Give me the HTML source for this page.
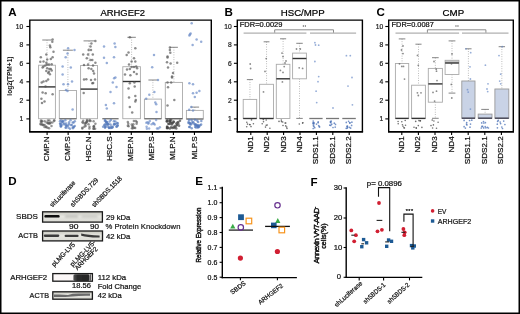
<!DOCTYPE html>
<html><head><meta charset="utf-8"><style>
html,body{margin:0;padding:0;background:#fff;}
svg{display:block;will-change:transform;}
text{font-family:"Liberation Sans", sans-serif;}
</style></head><body>
<svg width="520" height="314" viewBox="0 0 520 314">
<rect x="0" y="0" width="520" height="314" fill="#fff"/>
<rect x="0.75" y="0.75" width="518.5" height="312.5" fill="none" stroke="#000" stroke-width="1.5" />
<text x="8.3" y="16.4" font-size="11.6" text-anchor="start" font-weight="bold" fill="#000" >A</text>
<text x="224.6" y="16.2" font-size="11.6" text-anchor="start" font-weight="bold" fill="#000" >B</text>
<text x="376.4" y="16.4" font-size="11.6" text-anchor="start" font-weight="bold" fill="#000" >C</text>
<text x="8.2" y="185.0" font-size="11.6" text-anchor="start" font-weight="bold" fill="#000" >D</text>
<text x="195.3" y="185.1" font-size="11.6" text-anchor="start" font-weight="bold" fill="#000" >E</text>
<text x="310.4" y="185.5" font-size="11.6" text-anchor="start" font-weight="bold" fill="#000" >F</text>
<text x="100.4" y="15.9" font-size="9.9" text-anchor="start" font-weight="normal" fill="#000" stroke="#000" stroke-width="0.22" textLength="44.6" lengthAdjust="spacingAndGlyphs" >ARHGEF2</text>
<text x="280.7" y="15.7" font-size="9.7" text-anchor="start" font-weight="normal" fill="#000" stroke="#000" stroke-width="0.22" textLength="44.1" lengthAdjust="spacingAndGlyphs" >HSC/MPP</text>
<text x="442.6" y="15.9" font-size="9.8" text-anchor="start" font-weight="normal" fill="#000" stroke="#000" stroke-width="0.22" textLength="21.6" lengthAdjust="spacingAndGlyphs" >CMP</text>
<path d="M29.8,131.9 L29.8,20.1 L211.3,20.1 L211.3,131.9" fill="none" stroke="#000" stroke-width="1.4" stroke-linejoin="miter"/>
<line x1="29.1" y1="131.9" x2="212.0" y2="131.9" stroke="#000" stroke-width="1.7" />
<line x1="26.400000000000002" y1="26.5" x2="29.8" y2="26.5" stroke="#000" stroke-width="1.1" />
<text x="23.3" y="28.9" font-size="6.7" text-anchor="end" font-weight="normal" fill="#222" stroke="#222" stroke-width="0.22" >10</text>
<line x1="26.400000000000002" y1="44.9" x2="29.8" y2="44.9" stroke="#000" stroke-width="1.1" />
<text x="23.3" y="47.3" font-size="6.7" text-anchor="end" font-weight="normal" fill="#222" stroke="#222" stroke-width="0.22" >8</text>
<line x1="26.400000000000002" y1="63.3" x2="29.8" y2="63.3" stroke="#000" stroke-width="1.1" />
<text x="23.3" y="65.7" font-size="6.7" text-anchor="end" font-weight="normal" fill="#222" stroke="#222" stroke-width="0.22" >6</text>
<line x1="26.400000000000002" y1="81.8" x2="29.8" y2="81.8" stroke="#000" stroke-width="1.1" />
<text x="23.3" y="84.2" font-size="6.7" text-anchor="end" font-weight="normal" fill="#222" stroke="#222" stroke-width="0.22" >4</text>
<line x1="26.400000000000002" y1="100.2" x2="29.8" y2="100.2" stroke="#000" stroke-width="1.1" />
<text x="23.3" y="102.60000000000001" font-size="6.7" text-anchor="end" font-weight="normal" fill="#222" stroke="#222" stroke-width="0.22" >2</text>
<line x1="26.400000000000002" y1="118.9" x2="29.8" y2="118.9" stroke="#000" stroke-width="1.1" />
<text x="23.3" y="121.30000000000001" font-size="6.7" text-anchor="end" font-weight="normal" fill="#222" stroke="#222" stroke-width="0.22" >1</text>
<path d="M237.3,131.9 L237.3,20.1 L362.4,20.1 L362.4,131.9" fill="none" stroke="#000" stroke-width="1.4" stroke-linejoin="miter"/>
<line x1="236.60000000000002" y1="131.9" x2="363.09999999999997" y2="131.9" stroke="#000" stroke-width="1.7" />
<line x1="233.9" y1="26.5" x2="237.3" y2="26.5" stroke="#000" stroke-width="1.1" />
<text x="231.8" y="28.9" font-size="6.7" text-anchor="end" font-weight="normal" fill="#222" stroke="#222" stroke-width="0.22" >10</text>
<line x1="233.9" y1="44.9" x2="237.3" y2="44.9" stroke="#000" stroke-width="1.1" />
<text x="231.8" y="47.3" font-size="6.7" text-anchor="end" font-weight="normal" fill="#222" stroke="#222" stroke-width="0.22" >8</text>
<line x1="233.9" y1="63.3" x2="237.3" y2="63.3" stroke="#000" stroke-width="1.1" />
<text x="231.8" y="65.7" font-size="6.7" text-anchor="end" font-weight="normal" fill="#222" stroke="#222" stroke-width="0.22" >6</text>
<line x1="233.9" y1="81.8" x2="237.3" y2="81.8" stroke="#000" stroke-width="1.1" />
<text x="231.8" y="84.2" font-size="6.7" text-anchor="end" font-weight="normal" fill="#222" stroke="#222" stroke-width="0.22" >4</text>
<line x1="233.9" y1="100.2" x2="237.3" y2="100.2" stroke="#000" stroke-width="1.1" />
<text x="231.8" y="102.60000000000001" font-size="6.7" text-anchor="end" font-weight="normal" fill="#222" stroke="#222" stroke-width="0.22" >2</text>
<line x1="233.9" y1="118.9" x2="237.3" y2="118.9" stroke="#000" stroke-width="1.1" />
<text x="231.8" y="121.30000000000001" font-size="6.7" text-anchor="end" font-weight="normal" fill="#222" stroke="#222" stroke-width="0.22" >1</text>
<path d="M388.7,131.9 L388.7,20.1 L513.3,20.1 L513.3,131.9" fill="none" stroke="#000" stroke-width="1.4" stroke-linejoin="miter"/>
<line x1="388.0" y1="131.9" x2="514.0" y2="131.9" stroke="#000" stroke-width="1.7" />
<line x1="385.3" y1="26.5" x2="388.7" y2="26.5" stroke="#000" stroke-width="1.1" />
<text x="383.2" y="28.9" font-size="6.7" text-anchor="end" font-weight="normal" fill="#222" stroke="#222" stroke-width="0.22" >10</text>
<line x1="385.3" y1="44.9" x2="388.7" y2="44.9" stroke="#000" stroke-width="1.1" />
<text x="383.2" y="47.3" font-size="6.7" text-anchor="end" font-weight="normal" fill="#222" stroke="#222" stroke-width="0.22" >8</text>
<line x1="385.3" y1="63.3" x2="388.7" y2="63.3" stroke="#000" stroke-width="1.1" />
<text x="383.2" y="65.7" font-size="6.7" text-anchor="end" font-weight="normal" fill="#222" stroke="#222" stroke-width="0.22" >6</text>
<line x1="385.3" y1="81.8" x2="388.7" y2="81.8" stroke="#000" stroke-width="1.1" />
<text x="383.2" y="84.2" font-size="6.7" text-anchor="end" font-weight="normal" fill="#222" stroke="#222" stroke-width="0.22" >4</text>
<line x1="385.3" y1="100.2" x2="388.7" y2="100.2" stroke="#000" stroke-width="1.1" />
<text x="383.2" y="102.60000000000001" font-size="6.7" text-anchor="end" font-weight="normal" fill="#222" stroke="#222" stroke-width="0.22" >2</text>
<line x1="385.3" y1="118.9" x2="388.7" y2="118.9" stroke="#000" stroke-width="1.1" />
<text x="383.2" y="121.30000000000001" font-size="6.7" text-anchor="end" font-weight="normal" fill="#222" stroke="#222" stroke-width="0.22" >1</text>
<text x="12.5" y="76.1" font-size="7.6" text-anchor="middle" font-weight="bold" fill="#1a1a1a" textLength="39.2" lengthAdjust="spacingAndGlyphs" transform="rotate(-90 12.5 76.1)" >log2(TPM+1)</text>
<line x1="47.1" y1="131.9" x2="47.1" y2="135.0" stroke="#000" stroke-width="1.1" />
<text x="49.2" y="136.3" font-size="8.1" text-anchor="end" font-weight="normal" fill="#111" stroke="#111" stroke-width="0.22" transform="rotate(-90 49.2 136.3)" >CMP.N</text>
<line x1="68.15" y1="131.9" x2="68.15" y2="135.0" stroke="#000" stroke-width="1.1" />
<text x="70.25" y="136.3" font-size="8.1" text-anchor="end" font-weight="normal" fill="#111" stroke="#111" stroke-width="0.22" transform="rotate(-90 70.25 136.3)" >CMP.S</text>
<line x1="89.2" y1="131.9" x2="89.2" y2="135.0" stroke="#000" stroke-width="1.1" />
<text x="91.3" y="136.3" font-size="8.1" text-anchor="end" font-weight="normal" fill="#111" stroke="#111" stroke-width="0.22" transform="rotate(-90 91.3 136.3)" >HSC.N</text>
<line x1="110.25" y1="131.9" x2="110.25" y2="135.0" stroke="#000" stroke-width="1.1" />
<text x="112.35" y="136.3" font-size="8.1" text-anchor="end" font-weight="normal" fill="#111" stroke="#111" stroke-width="0.22" transform="rotate(-90 112.35 136.3)" >HSC.S</text>
<line x1="131.3" y1="131.9" x2="131.3" y2="135.0" stroke="#000" stroke-width="1.1" />
<text x="133.4" y="136.3" font-size="8.1" text-anchor="end" font-weight="normal" fill="#111" stroke="#111" stroke-width="0.22" transform="rotate(-90 133.4 136.3)" >MEP.N</text>
<line x1="152.35" y1="131.9" x2="152.35" y2="135.0" stroke="#000" stroke-width="1.1" />
<text x="154.45" y="136.3" font-size="8.1" text-anchor="end" font-weight="normal" fill="#111" stroke="#111" stroke-width="0.22" transform="rotate(-90 154.45 136.3)" >MEP.S</text>
<line x1="173.4" y1="131.9" x2="173.4" y2="135.0" stroke="#000" stroke-width="1.1" />
<text x="175.5" y="136.3" font-size="8.1" text-anchor="end" font-weight="normal" fill="#111" stroke="#111" stroke-width="0.22" transform="rotate(-90 175.5 136.3)" >MLP.N</text>
<line x1="194.45" y1="131.9" x2="194.45" y2="135.0" stroke="#000" stroke-width="1.1" />
<text x="196.54999999999998" y="136.3" font-size="8.1" text-anchor="end" font-weight="normal" fill="#111" stroke="#111" stroke-width="0.22" transform="rotate(-90 196.54999999999998 136.3)" >MLP.S</text>
<line x1="250.8" y1="131.9" x2="250.8" y2="135.0" stroke="#000" stroke-width="1.1" />
<text x="252.9" y="136.3" font-size="8.1" text-anchor="end" font-weight="normal" fill="#111" stroke="#111" stroke-width="0.22" transform="rotate(-90 252.9 136.3)" >ND1</text>
<line x1="267.2" y1="131.9" x2="267.2" y2="135.0" stroke="#000" stroke-width="1.1" />
<text x="269.3" y="136.3" font-size="8.1" text-anchor="end" font-weight="normal" fill="#111" stroke="#111" stroke-width="0.22" transform="rotate(-90 269.3 136.3)" >ND2</text>
<line x1="283.6" y1="131.9" x2="283.6" y2="135.0" stroke="#000" stroke-width="1.1" />
<text x="285.70000000000005" y="136.3" font-size="8.1" text-anchor="end" font-weight="normal" fill="#111" stroke="#111" stroke-width="0.22" transform="rotate(-90 285.70000000000005 136.3)" >ND3</text>
<line x1="300.0" y1="131.9" x2="300.0" y2="135.0" stroke="#000" stroke-width="1.1" />
<text x="302.1" y="136.3" font-size="8.1" text-anchor="end" font-weight="normal" fill="#111" stroke="#111" stroke-width="0.22" transform="rotate(-90 302.1 136.3)" >ND4</text>
<line x1="316.4" y1="131.9" x2="316.4" y2="135.0" stroke="#000" stroke-width="1.1" />
<text x="318.5" y="136.3" font-size="8.1" text-anchor="end" font-weight="normal" fill="#111" stroke="#111" stroke-width="0.22" transform="rotate(-90 318.5 136.3)" >SDS1.1</text>
<line x1="332.8" y1="131.9" x2="332.8" y2="135.0" stroke="#000" stroke-width="1.1" />
<text x="334.90000000000003" y="136.3" font-size="8.1" text-anchor="end" font-weight="normal" fill="#111" stroke="#111" stroke-width="0.22" transform="rotate(-90 334.90000000000003 136.3)" >SDS2.1</text>
<line x1="349.2" y1="131.9" x2="349.2" y2="135.0" stroke="#000" stroke-width="1.1" />
<text x="351.3" y="136.3" font-size="8.1" text-anchor="end" font-weight="normal" fill="#111" stroke="#111" stroke-width="0.22" transform="rotate(-90 351.3 136.3)" >SDS2.2</text>
<line x1="401.8" y1="131.9" x2="401.8" y2="135.0" stroke="#000" stroke-width="1.1" />
<text x="403.90000000000003" y="136.3" font-size="8.1" text-anchor="end" font-weight="normal" fill="#111" stroke="#111" stroke-width="0.22" transform="rotate(-90 403.90000000000003 136.3)" >ND1</text>
<line x1="418.40000000000003" y1="131.9" x2="418.40000000000003" y2="135.0" stroke="#000" stroke-width="1.1" />
<text x="420.50000000000006" y="136.3" font-size="8.1" text-anchor="end" font-weight="normal" fill="#111" stroke="#111" stroke-width="0.22" transform="rotate(-90 420.50000000000006 136.3)" >ND2</text>
<line x1="435.0" y1="131.9" x2="435.0" y2="135.0" stroke="#000" stroke-width="1.1" />
<text x="437.1" y="136.3" font-size="8.1" text-anchor="end" font-weight="normal" fill="#111" stroke="#111" stroke-width="0.22" transform="rotate(-90 437.1 136.3)" >ND3</text>
<line x1="451.6" y1="131.9" x2="451.6" y2="135.0" stroke="#000" stroke-width="1.1" />
<text x="453.70000000000005" y="136.3" font-size="8.1" text-anchor="end" font-weight="normal" fill="#111" stroke="#111" stroke-width="0.22" transform="rotate(-90 453.70000000000005 136.3)" >ND4</text>
<line x1="468.20000000000005" y1="131.9" x2="468.20000000000005" y2="135.0" stroke="#000" stroke-width="1.1" />
<text x="470.30000000000007" y="136.3" font-size="8.1" text-anchor="end" font-weight="normal" fill="#111" stroke="#111" stroke-width="0.22" transform="rotate(-90 470.30000000000007 136.3)" >SDS1.1</text>
<line x1="484.8" y1="131.9" x2="484.8" y2="135.0" stroke="#000" stroke-width="1.1" />
<text x="486.90000000000003" y="136.3" font-size="8.1" text-anchor="end" font-weight="normal" fill="#111" stroke="#111" stroke-width="0.22" transform="rotate(-90 486.90000000000003 136.3)" >SDS2.1</text>
<line x1="501.40000000000003" y1="131.9" x2="501.40000000000003" y2="135.0" stroke="#000" stroke-width="1.1" />
<text x="503.50000000000006" y="136.3" font-size="8.1" text-anchor="end" font-weight="normal" fill="#111" stroke="#111" stroke-width="0.22" transform="rotate(-90 503.50000000000006 136.3)" >SDS2.2</text>
<line x1="47.0" y1="40" x2="47.0" y2="65.2" stroke="#999" stroke-width="0.8" stroke-dasharray="0.8 1.6"/>
<line x1="42.25" y1="40" x2="51.75" y2="40" stroke="#777" stroke-width="0.9" />
<rect x="38.6" y="65.2" width="16.799999999999997" height="53.5" fill="#fff" stroke="#aaa" stroke-width="0.9" />
<line x1="38.6" y1="86.9" x2="55.4" y2="86.9" stroke="#333" stroke-width="1.4" />
<circle cx="52.6" cy="39.6" r="1.25" fill="#555555" fill-opacity="0.68"/>
<circle cx="52.3" cy="41.8" r="1.25" fill="#555555" fill-opacity="0.68"/>
<circle cx="49.9" cy="45.5" r="1.25" fill="#555555" fill-opacity="0.68"/>
<circle cx="50.3" cy="47.3" r="1.25" fill="#555555" fill-opacity="0.68"/>
<circle cx="53.5" cy="51.8" r="1.25" fill="#555555" fill-opacity="0.68"/>
<circle cx="46.3" cy="54.5" r="1.25" fill="#555555" fill-opacity="0.68"/>
<circle cx="52.6" cy="57.3" r="1.25" fill="#555555" fill-opacity="0.68"/>
<circle cx="40.8" cy="57.3" r="1.25" fill="#555555" fill-opacity="0.68"/>
<circle cx="47.2" cy="59.6" r="1.25" fill="#555555" fill-opacity="0.68"/>
<circle cx="50.8" cy="59.1" r="1.25" fill="#555555" fill-opacity="0.68"/>
<circle cx="43.5" cy="61.5" r="1.25" fill="#555555" fill-opacity="0.68"/>
<circle cx="46.3" cy="62.7" r="1.25" fill="#555555" fill-opacity="0.68"/>
<circle cx="40.3" cy="61.8" r="1.25" fill="#555555" fill-opacity="0.68"/>
<circle cx="47.2" cy="64.5" r="1.25" fill="#555555" fill-opacity="0.68"/>
<circle cx="49.0" cy="64.5" r="1.25" fill="#555555" fill-opacity="0.68"/>
<circle cx="51.7" cy="64.2" r="1.25" fill="#555555" fill-opacity="0.68"/>
<circle cx="45.4" cy="65.5" r="1.25" fill="#555555" fill-opacity="0.68"/>
<circle cx="43.5" cy="66.4" r="1.25" fill="#555555" fill-opacity="0.68"/>
<circle cx="42.6" cy="67.6" r="1.25" fill="#555555" fill-opacity="0.68"/>
<circle cx="47.2" cy="68.2" r="1.25" fill="#555555" fill-opacity="0.68"/>
<circle cx="49.4" cy="69.0" r="1.25" fill="#555555" fill-opacity="0.68"/>
<circle cx="50.8" cy="69.0" r="1.25" fill="#555555" fill-opacity="0.68"/>
<circle cx="46.3" cy="71.0" r="1.25" fill="#555555" fill-opacity="0.68"/>
<circle cx="49.0" cy="71.8" r="1.25" fill="#555555" fill-opacity="0.68"/>
<circle cx="51.7" cy="70.5" r="1.25" fill="#555555" fill-opacity="0.68"/>
<circle cx="48.1" cy="73.0" r="1.25" fill="#555555" fill-opacity="0.68"/>
<circle cx="49.9" cy="74.2" r="1.25" fill="#555555" fill-opacity="0.68"/>
<circle cx="41.7" cy="82.4" r="1.25" fill="#555555" fill-opacity="0.68"/>
<circle cx="43.5" cy="81.5" r="1.25" fill="#555555" fill-opacity="0.68"/>
<circle cx="46.3" cy="81.1" r="1.25" fill="#555555" fill-opacity="0.68"/>
<circle cx="48.1" cy="79.6" r="1.25" fill="#555555" fill-opacity="0.68"/>
<circle cx="45.5" cy="86.5" r="1.25" fill="#555555" fill-opacity="0.68"/>
<circle cx="42.6" cy="92.4" r="1.25" fill="#555555" fill-opacity="0.68"/>
<circle cx="45.7" cy="93.3" r="1.25" fill="#555555" fill-opacity="0.68"/>
<circle cx="52.6" cy="94.2" r="1.25" fill="#555555" fill-opacity="0.68"/>
<circle cx="41.4" cy="98.7" r="1.25" fill="#555555" fill-opacity="0.68"/>
<circle cx="42.0" cy="103.0" r="1.25" fill="#555555" fill-opacity="0.68"/>
<circle cx="44.5" cy="101.5" r="1.25" fill="#555555" fill-opacity="0.68"/>
<circle cx="44.7" cy="121.2" r="1.25" fill="#555555" fill-opacity="0.62"/>
<circle cx="49.4" cy="120.5" r="1.25" fill="#555555" fill-opacity="0.62"/>
<circle cx="47.8" cy="123.1" r="1.25" fill="#555555" fill-opacity="0.62"/>
<circle cx="40.8" cy="124.4" r="1.25" fill="#555555" fill-opacity="0.62"/>
<circle cx="40.5" cy="123.7" r="1.25" fill="#555555" fill-opacity="0.62"/>
<circle cx="41.0" cy="120.6" r="1.25" fill="#555555" fill-opacity="0.62"/>
<circle cx="46.2" cy="127.2" r="1.25" fill="#555555" fill-opacity="0.62"/>
<circle cx="41.8" cy="121.8" r="1.25" fill="#555555" fill-opacity="0.62"/>
<circle cx="49.1" cy="128.3" r="1.25" fill="#555555" fill-opacity="0.62"/>
<circle cx="48.4" cy="123.4" r="1.25" fill="#555555" fill-opacity="0.62"/>
<circle cx="54.2" cy="120.2" r="1.25" fill="#555555" fill-opacity="0.62"/>
<circle cx="52.4" cy="122.4" r="1.25" fill="#555555" fill-opacity="0.62"/>
<circle cx="42.1" cy="120.9" r="1.25" fill="#555555" fill-opacity="0.62"/>
<circle cx="44.5" cy="127.1" r="1.25" fill="#555555" fill-opacity="0.62"/>
<circle cx="42.6" cy="125.0" r="1.25" fill="#555555" fill-opacity="0.62"/>
<circle cx="49.3" cy="123.2" r="1.25" fill="#555555" fill-opacity="0.62"/>
<circle cx="47.9" cy="120.4" r="1.25" fill="#555555" fill-opacity="0.62"/>
<circle cx="40.9" cy="121.7" r="1.25" fill="#555555" fill-opacity="0.62"/>
<circle cx="49.9" cy="123.6" r="1.25" fill="#555555" fill-opacity="0.62"/>
<circle cx="44.6" cy="125.1" r="1.25" fill="#555555" fill-opacity="0.62"/>
<circle cx="46.6" cy="122.5" r="1.25" fill="#555555" fill-opacity="0.62"/>
<circle cx="51.5" cy="126.1" r="1.25" fill="#555555" fill-opacity="0.62"/>
<circle cx="43.5" cy="125.0" r="1.25" fill="#555555" fill-opacity="0.62"/>
<circle cx="47.6" cy="127.7" r="1.25" fill="#555555" fill-opacity="0.62"/>
<circle cx="50.6" cy="122.4" r="1.25" fill="#555555" fill-opacity="0.62"/>
<circle cx="54.2" cy="120.9" r="1.25" fill="#555555" fill-opacity="0.62"/>
<circle cx="46.1" cy="126.6" r="1.25" fill="#555555" fill-opacity="0.62"/>
<circle cx="42.2" cy="124.2" r="1.25" fill="#555555" fill-opacity="0.62"/>
<line x1="67.9" y1="50.2" x2="67.9" y2="90.5" stroke="#999" stroke-width="0.8" stroke-dasharray="0.8 1.6"/>
<line x1="62.900000000000006" y1="50.2" x2="72.9" y2="50.2" stroke="#777" stroke-width="0.9" />
<rect x="59.3" y="90.5" width="17.200000000000003" height="28.200000000000003" fill="#fff" stroke="#aaa" stroke-width="0.9" />
<line x1="59.3" y1="118.7" x2="76.5" y2="118.7" stroke="#7a7a7a" stroke-width="1.4" />
<circle cx="68.1" cy="48.2" r="1.25" fill="#6688c6" fill-opacity="0.68"/>
<circle cx="74.5" cy="50.0" r="1.25" fill="#6688c6" fill-opacity="0.68"/>
<circle cx="67.5" cy="53.6" r="1.25" fill="#6688c6" fill-opacity="0.68"/>
<circle cx="65.7" cy="57.3" r="1.25" fill="#6688c6" fill-opacity="0.68"/>
<circle cx="62.6" cy="66.4" r="1.25" fill="#6688c6" fill-opacity="0.68"/>
<circle cx="70.8" cy="67.6" r="1.25" fill="#6688c6" fill-opacity="0.68"/>
<circle cx="62.6" cy="74.5" r="1.25" fill="#6688c6" fill-opacity="0.68"/>
<circle cx="63.5" cy="84.2" r="1.25" fill="#6688c6" fill-opacity="0.68"/>
<circle cx="68.0" cy="84.2" r="1.25" fill="#6688c6" fill-opacity="0.68"/>
<circle cx="72.0" cy="81.5" r="1.25" fill="#6688c6" fill-opacity="0.68"/>
<circle cx="67.5" cy="91.0" r="1.25" fill="#6688c6" fill-opacity="0.68"/>
<circle cx="66.0" cy="90.0" r="1.25" fill="#6688c6" fill-opacity="0.68"/>
<circle cx="72.6" cy="109.6" r="1.25" fill="#6688c6" fill-opacity="0.68"/>
<circle cx="60.6" cy="125.8" r="1.25" fill="#5479bb" fill-opacity="0.62"/>
<circle cx="71.9" cy="125.0" r="1.25" fill="#5479bb" fill-opacity="0.62"/>
<circle cx="73.6" cy="122.6" r="1.25" fill="#5479bb" fill-opacity="0.62"/>
<circle cx="70.8" cy="125.1" r="1.25" fill="#5479bb" fill-opacity="0.62"/>
<circle cx="69.0" cy="123.9" r="1.25" fill="#5479bb" fill-opacity="0.62"/>
<circle cx="73.0" cy="128.3" r="1.25" fill="#5479bb" fill-opacity="0.62"/>
<circle cx="67.3" cy="125.8" r="1.25" fill="#5479bb" fill-opacity="0.62"/>
<circle cx="60.9" cy="126.1" r="1.25" fill="#5479bb" fill-opacity="0.62"/>
<circle cx="70.0" cy="128.7" r="1.25" fill="#5479bb" fill-opacity="0.62"/>
<circle cx="72.7" cy="122.4" r="1.25" fill="#5479bb" fill-opacity="0.62"/>
<circle cx="66.0" cy="125.8" r="1.25" fill="#5479bb" fill-opacity="0.62"/>
<circle cx="60.3" cy="124.0" r="1.25" fill="#5479bb" fill-opacity="0.62"/>
<circle cx="62.6" cy="120.9" r="1.25" fill="#5479bb" fill-opacity="0.62"/>
<circle cx="60.9" cy="126.7" r="1.25" fill="#5479bb" fill-opacity="0.62"/>
<circle cx="62.0" cy="122.0" r="1.25" fill="#5479bb" fill-opacity="0.62"/>
<circle cx="66.1" cy="127.6" r="1.25" fill="#5479bb" fill-opacity="0.62"/>
<circle cx="61.2" cy="123.8" r="1.25" fill="#5479bb" fill-opacity="0.62"/>
<circle cx="68.5" cy="127.8" r="1.25" fill="#5479bb" fill-opacity="0.62"/>
<circle cx="72.7" cy="127.6" r="1.25" fill="#5479bb" fill-opacity="0.62"/>
<circle cx="64.3" cy="123.5" r="1.25" fill="#5479bb" fill-opacity="0.62"/>
<circle cx="65.6" cy="127.8" r="1.25" fill="#5479bb" fill-opacity="0.62"/>
<circle cx="74.8" cy="121.2" r="1.25" fill="#5479bb" fill-opacity="0.62"/>
<circle cx="62.7" cy="121.9" r="1.25" fill="#5479bb" fill-opacity="0.62"/>
<circle cx="63.6" cy="124.2" r="1.25" fill="#5479bb" fill-opacity="0.62"/>
<circle cx="69.1" cy="122.2" r="1.25" fill="#5479bb" fill-opacity="0.62"/>
<circle cx="60.1" cy="123.6" r="1.25" fill="#5479bb" fill-opacity="0.62"/>
<circle cx="65.7" cy="124.9" r="1.25" fill="#5479bb" fill-opacity="0.62"/>
<circle cx="74.8" cy="126.0" r="1.25" fill="#5479bb" fill-opacity="0.62"/>
<circle cx="68.0" cy="125.4" r="1.25" fill="#5479bb" fill-opacity="0.62"/>
<circle cx="70.5" cy="120.3" r="1.25" fill="#5479bb" fill-opacity="0.62"/>
<circle cx="73.9" cy="126.8" r="1.25" fill="#5479bb" fill-opacity="0.62"/>
<circle cx="73.6" cy="127.0" r="1.25" fill="#5479bb" fill-opacity="0.62"/>
<circle cx="66.1" cy="123.4" r="1.25" fill="#5479bb" fill-opacity="0.62"/>
<circle cx="61.6" cy="125.5" r="1.25" fill="#5479bb" fill-opacity="0.62"/>
<circle cx="61.0" cy="120.4" r="1.25" fill="#5479bb" fill-opacity="0.62"/>
<circle cx="63.2" cy="121.3" r="1.25" fill="#5479bb" fill-opacity="0.62"/>
<circle cx="65.3" cy="120.3" r="1.25" fill="#5479bb" fill-opacity="0.62"/>
<circle cx="60.0" cy="121.2" r="1.25" fill="#5479bb" fill-opacity="0.62"/>
<line x1="89.05" y1="40.9" x2="89.05" y2="65.5" stroke="#999" stroke-width="0.8" stroke-dasharray="0.8 1.6"/>
<line x1="83.55" y1="40.9" x2="94.55" y2="40.9" stroke="#777" stroke-width="0.9" />
<rect x="80.6" y="65.5" width="16.900000000000006" height="53.2" fill="#fff" stroke="#aaa" stroke-width="0.9" />
<line x1="80.6" y1="89.1" x2="97.5" y2="89.1" stroke="#333" stroke-width="1.4" />
<circle cx="95.4" cy="40.9" r="1.25" fill="#555555" fill-opacity="0.68"/>
<circle cx="91.4" cy="43.6" r="1.25" fill="#555555" fill-opacity="0.68"/>
<circle cx="90.5" cy="46.4" r="1.25" fill="#555555" fill-opacity="0.68"/>
<circle cx="88.6" cy="50.0" r="1.25" fill="#555555" fill-opacity="0.68"/>
<circle cx="91.0" cy="50.0" r="1.25" fill="#555555" fill-opacity="0.68"/>
<circle cx="83.2" cy="54.5" r="1.25" fill="#555555" fill-opacity="0.68"/>
<circle cx="88.0" cy="54.5" r="1.25" fill="#555555" fill-opacity="0.68"/>
<circle cx="92.8" cy="54.5" r="1.25" fill="#555555" fill-opacity="0.68"/>
<circle cx="86.8" cy="58.2" r="1.25" fill="#555555" fill-opacity="0.68"/>
<circle cx="90.5" cy="60.0" r="1.25" fill="#555555" fill-opacity="0.68"/>
<circle cx="92.3" cy="60.0" r="1.25" fill="#555555" fill-opacity="0.68"/>
<circle cx="95.4" cy="62.7" r="1.25" fill="#555555" fill-opacity="0.68"/>
<circle cx="84.0" cy="65.0" r="1.25" fill="#555555" fill-opacity="0.68"/>
<circle cx="88.0" cy="64.5" r="1.25" fill="#555555" fill-opacity="0.68"/>
<circle cx="93.0" cy="65.5" r="1.25" fill="#555555" fill-opacity="0.68"/>
<circle cx="88.6" cy="68.2" r="1.25" fill="#555555" fill-opacity="0.68"/>
<circle cx="91.4" cy="69.0" r="1.25" fill="#555555" fill-opacity="0.68"/>
<circle cx="93.2" cy="71.0" r="1.25" fill="#555555" fill-opacity="0.68"/>
<circle cx="94.0" cy="73.6" r="1.25" fill="#555555" fill-opacity="0.68"/>
<circle cx="84.0" cy="79.6" r="1.25" fill="#555555" fill-opacity="0.68"/>
<circle cx="86.3" cy="79.3" r="1.25" fill="#555555" fill-opacity="0.68"/>
<circle cx="91.0" cy="80.0" r="1.25" fill="#555555" fill-opacity="0.68"/>
<circle cx="95.0" cy="79.6" r="1.25" fill="#555555" fill-opacity="0.68"/>
<circle cx="92.3" cy="83.3" r="1.25" fill="#555555" fill-opacity="0.68"/>
<circle cx="93.2" cy="83.0" r="1.25" fill="#555555" fill-opacity="0.68"/>
<circle cx="83.7" cy="92.9" r="1.25" fill="#555555" fill-opacity="0.68"/>
<circle cx="83.4" cy="123.1" r="1.25" fill="#555555" fill-opacity="0.62"/>
<circle cx="82.4" cy="127.7" r="1.25" fill="#555555" fill-opacity="0.62"/>
<circle cx="90.6" cy="121.1" r="1.25" fill="#555555" fill-opacity="0.62"/>
<circle cx="85.5" cy="122.9" r="1.25" fill="#555555" fill-opacity="0.62"/>
<circle cx="87.1" cy="120.9" r="1.25" fill="#555555" fill-opacity="0.62"/>
<circle cx="93.9" cy="128.7" r="1.25" fill="#555555" fill-opacity="0.62"/>
<circle cx="88.5" cy="124.2" r="1.25" fill="#555555" fill-opacity="0.62"/>
<circle cx="83.2" cy="120.7" r="1.25" fill="#555555" fill-opacity="0.62"/>
<circle cx="86.8" cy="122.2" r="1.25" fill="#555555" fill-opacity="0.62"/>
<circle cx="93.6" cy="121.3" r="1.25" fill="#555555" fill-opacity="0.62"/>
<circle cx="82.3" cy="128.4" r="1.25" fill="#555555" fill-opacity="0.62"/>
<circle cx="89.4" cy="121.1" r="1.25" fill="#555555" fill-opacity="0.62"/>
<circle cx="89.6" cy="120.0" r="1.25" fill="#555555" fill-opacity="0.62"/>
<circle cx="89.4" cy="128.6" r="1.25" fill="#555555" fill-opacity="0.62"/>
<circle cx="94.1" cy="126.1" r="1.25" fill="#555555" fill-opacity="0.62"/>
<circle cx="85.7" cy="123.1" r="1.25" fill="#555555" fill-opacity="0.62"/>
<circle cx="84.3" cy="126.7" r="1.25" fill="#555555" fill-opacity="0.62"/>
<circle cx="89.5" cy="126.8" r="1.25" fill="#555555" fill-opacity="0.62"/>
<circle cx="86.6" cy="121.8" r="1.25" fill="#555555" fill-opacity="0.62"/>
<circle cx="93.4" cy="128.7" r="1.25" fill="#555555" fill-opacity="0.62"/>
<circle cx="93.9" cy="127.1" r="1.25" fill="#555555" fill-opacity="0.62"/>
<circle cx="93.5" cy="126.5" r="1.25" fill="#555555" fill-opacity="0.62"/>
<circle cx="85.2" cy="124.5" r="1.25" fill="#555555" fill-opacity="0.62"/>
<circle cx="87.0" cy="120.1" r="1.25" fill="#555555" fill-opacity="0.62"/>
<circle cx="82.4" cy="122.3" r="1.25" fill="#555555" fill-opacity="0.62"/>
<circle cx="85.6" cy="126.0" r="1.25" fill="#555555" fill-opacity="0.62"/>
<circle cx="95.4" cy="123.8" r="1.25" fill="#555555" fill-opacity="0.62"/>
<circle cx="95.1" cy="128.7" r="1.25" fill="#555555" fill-opacity="0.62"/>
<line x1="102.3" y1="118.7" x2="118.6" y2="118.7" stroke="#7a7a7a" stroke-width="1.4" />
<circle cx="104.0" cy="46.4" r="1.25" fill="#6688c6" fill-opacity="0.68"/>
<circle cx="114.6" cy="43.6" r="1.25" fill="#6688c6" fill-opacity="0.68"/>
<circle cx="115.4" cy="47.0" r="1.25" fill="#6688c6" fill-opacity="0.68"/>
<circle cx="104.0" cy="57.8" r="1.25" fill="#6688c6" fill-opacity="0.68"/>
<circle cx="114.0" cy="57.3" r="1.25" fill="#6688c6" fill-opacity="0.68"/>
<circle cx="106.8" cy="63.1" r="1.25" fill="#6688c6" fill-opacity="0.68"/>
<circle cx="114.1" cy="78.2" r="1.25" fill="#6688c6" fill-opacity="0.68"/>
<circle cx="115.4" cy="77.5" r="1.25" fill="#6688c6" fill-opacity="0.68"/>
<circle cx="112.8" cy="82.4" r="1.25" fill="#6688c6" fill-opacity="0.68"/>
<circle cx="116.5" cy="86.9" r="1.25" fill="#6688c6" fill-opacity="0.68"/>
<circle cx="110.5" cy="92.0" r="1.25" fill="#6688c6" fill-opacity="0.68"/>
<circle cx="114.0" cy="103.3" r="1.25" fill="#6688c6" fill-opacity="0.68"/>
<circle cx="105.9" cy="105.0" r="1.25" fill="#6688c6" fill-opacity="0.68"/>
<circle cx="106.8" cy="108.4" r="1.25" fill="#6688c6" fill-opacity="0.68"/>
<circle cx="117.3" cy="123.0" r="1.25" fill="#5479bb" fill-opacity="0.65"/>
<circle cx="106.3" cy="121.8" r="1.25" fill="#5479bb" fill-opacity="0.65"/>
<circle cx="106.0" cy="121.6" r="1.25" fill="#5479bb" fill-opacity="0.65"/>
<circle cx="112.4" cy="127.6" r="1.25" fill="#5479bb" fill-opacity="0.65"/>
<circle cx="115.6" cy="124.0" r="1.25" fill="#5479bb" fill-opacity="0.65"/>
<circle cx="112.8" cy="126.8" r="1.25" fill="#5479bb" fill-opacity="0.65"/>
<circle cx="104.3" cy="125.5" r="1.25" fill="#5479bb" fill-opacity="0.65"/>
<circle cx="116.6" cy="126.6" r="1.25" fill="#5479bb" fill-opacity="0.65"/>
<circle cx="114.3" cy="124.0" r="1.25" fill="#5479bb" fill-opacity="0.65"/>
<circle cx="105.7" cy="126.7" r="1.25" fill="#5479bb" fill-opacity="0.65"/>
<circle cx="108.0" cy="126.8" r="1.25" fill="#5479bb" fill-opacity="0.65"/>
<circle cx="117.6" cy="123.2" r="1.25" fill="#5479bb" fill-opacity="0.65"/>
<circle cx="109.0" cy="128.0" r="1.25" fill="#5479bb" fill-opacity="0.65"/>
<circle cx="113.9" cy="121.3" r="1.25" fill="#5479bb" fill-opacity="0.65"/>
<circle cx="104.9" cy="121.1" r="1.25" fill="#5479bb" fill-opacity="0.65"/>
<circle cx="116.6" cy="126.8" r="1.25" fill="#5479bb" fill-opacity="0.65"/>
<circle cx="105.2" cy="127.0" r="1.25" fill="#5479bb" fill-opacity="0.65"/>
<circle cx="117.7" cy="125.5" r="1.25" fill="#5479bb" fill-opacity="0.65"/>
<circle cx="108.3" cy="124.6" r="1.25" fill="#5479bb" fill-opacity="0.65"/>
<circle cx="105.0" cy="119.9" r="1.25" fill="#5479bb" fill-opacity="0.65"/>
<circle cx="117.6" cy="125.5" r="1.25" fill="#5479bb" fill-opacity="0.65"/>
<circle cx="110.9" cy="127.9" r="1.25" fill="#5479bb" fill-opacity="0.65"/>
<circle cx="109.5" cy="127.4" r="1.25" fill="#5479bb" fill-opacity="0.65"/>
<circle cx="115.4" cy="121.6" r="1.25" fill="#5479bb" fill-opacity="0.65"/>
<circle cx="106.8" cy="122.3" r="1.25" fill="#5479bb" fill-opacity="0.65"/>
<circle cx="106.6" cy="124.9" r="1.25" fill="#5479bb" fill-opacity="0.65"/>
<circle cx="106.9" cy="123.4" r="1.25" fill="#5479bb" fill-opacity="0.65"/>
<circle cx="105.0" cy="127.7" r="1.25" fill="#5479bb" fill-opacity="0.65"/>
<circle cx="108.3" cy="123.8" r="1.25" fill="#5479bb" fill-opacity="0.65"/>
<circle cx="111.8" cy="127.7" r="1.25" fill="#5479bb" fill-opacity="0.65"/>
<circle cx="109.3" cy="127.8" r="1.25" fill="#5479bb" fill-opacity="0.65"/>
<circle cx="110.5" cy="124.4" r="1.25" fill="#5479bb" fill-opacity="0.65"/>
<circle cx="110.9" cy="120.0" r="1.25" fill="#5479bb" fill-opacity="0.65"/>
<circle cx="109.6" cy="121.4" r="1.25" fill="#5479bb" fill-opacity="0.65"/>
<circle cx="103.1" cy="126.8" r="1.25" fill="#5479bb" fill-opacity="0.65"/>
<circle cx="105.6" cy="123.9" r="1.25" fill="#5479bb" fill-opacity="0.65"/>
<circle cx="113.9" cy="124.6" r="1.25" fill="#5479bb" fill-opacity="0.65"/>
<circle cx="107.9" cy="124.3" r="1.25" fill="#5479bb" fill-opacity="0.65"/>
<circle cx="111.3" cy="126.6" r="1.25" fill="#5479bb" fill-opacity="0.65"/>
<circle cx="104.6" cy="124.7" r="1.25" fill="#5479bb" fill-opacity="0.65"/>
<circle cx="106.7" cy="122.2" r="1.25" fill="#5479bb" fill-opacity="0.65"/>
<circle cx="114.6" cy="124.2" r="1.25" fill="#5479bb" fill-opacity="0.65"/>
<line x1="131.6" y1="37.3" x2="131.6" y2="66.7" stroke="#999" stroke-width="0.8" stroke-dasharray="0.8 1.6"/>
<line x1="127.35" y1="37.3" x2="135.85" y2="37.3" stroke="#777" stroke-width="0.9" />
<rect x="122.8" y="66.7" width="17.60000000000001" height="52.0" fill="#fff" stroke="#aaa" stroke-width="0.9" />
<line x1="122.8" y1="81.5" x2="140.4" y2="81.5" stroke="#333" stroke-width="1.4" />
<circle cx="129.8" cy="37.3" r="1.25" fill="#555555" fill-opacity="0.68"/>
<circle cx="135.3" cy="48.2" r="1.25" fill="#555555" fill-opacity="0.68"/>
<circle cx="128.5" cy="52.4" r="1.25" fill="#555555" fill-opacity="0.68"/>
<circle cx="126.7" cy="55.1" r="1.25" fill="#555555" fill-opacity="0.68"/>
<circle cx="134.0" cy="58.2" r="1.25" fill="#555555" fill-opacity="0.68"/>
<circle cx="131.6" cy="61.5" r="1.25" fill="#555555" fill-opacity="0.68"/>
<circle cx="135.3" cy="61.5" r="1.25" fill="#555555" fill-opacity="0.68"/>
<circle cx="129.0" cy="64.5" r="1.25" fill="#555555" fill-opacity="0.68"/>
<circle cx="131.6" cy="67.0" r="1.25" fill="#555555" fill-opacity="0.68"/>
<circle cx="134.0" cy="67.0" r="1.25" fill="#555555" fill-opacity="0.68"/>
<circle cx="136.2" cy="66.4" r="1.25" fill="#555555" fill-opacity="0.68"/>
<circle cx="127.0" cy="69.4" r="1.25" fill="#555555" fill-opacity="0.68"/>
<circle cx="129.8" cy="69.0" r="1.25" fill="#555555" fill-opacity="0.68"/>
<circle cx="137.1" cy="68.2" r="1.25" fill="#555555" fill-opacity="0.68"/>
<circle cx="125.0" cy="74.5" r="1.25" fill="#555555" fill-opacity="0.68"/>
<circle cx="130.4" cy="75.2" r="1.25" fill="#555555" fill-opacity="0.68"/>
<circle cx="134.0" cy="72.0" r="1.25" fill="#555555" fill-opacity="0.68"/>
<circle cx="136.7" cy="74.1" r="1.25" fill="#555555" fill-opacity="0.68"/>
<circle cx="129.8" cy="83.3" r="1.25" fill="#555555" fill-opacity="0.68"/>
<circle cx="134.4" cy="82.4" r="1.25" fill="#555555" fill-opacity="0.68"/>
<circle cx="128.5" cy="88.4" r="1.25" fill="#555555" fill-opacity="0.68"/>
<circle cx="134.7" cy="86.5" r="1.25" fill="#555555" fill-opacity="0.68"/>
<circle cx="129.0" cy="97.5" r="1.25" fill="#555555" fill-opacity="0.68"/>
<circle cx="135.3" cy="96.0" r="1.25" fill="#555555" fill-opacity="0.68"/>
<circle cx="135.8" cy="100.0" r="1.25" fill="#555555" fill-opacity="0.68"/>
<circle cx="135.3" cy="101.5" r="1.25" fill="#555555" fill-opacity="0.68"/>
<circle cx="129.8" cy="106.9" r="1.25" fill="#555555" fill-opacity="0.68"/>
<circle cx="132.2" cy="112.4" r="1.25" fill="#555555" fill-opacity="0.68"/>
<circle cx="132.9" cy="126.6" r="1.25" fill="#555555" fill-opacity="0.62"/>
<circle cx="136.6" cy="123.8" r="1.25" fill="#555555" fill-opacity="0.62"/>
<circle cx="133.4" cy="124.3" r="1.25" fill="#555555" fill-opacity="0.62"/>
<circle cx="132.4" cy="126.0" r="1.25" fill="#555555" fill-opacity="0.62"/>
<circle cx="131.7" cy="124.6" r="1.25" fill="#555555" fill-opacity="0.62"/>
<circle cx="132.0" cy="128.3" r="1.25" fill="#555555" fill-opacity="0.62"/>
<circle cx="134.3" cy="127.7" r="1.25" fill="#555555" fill-opacity="0.62"/>
<circle cx="136.9" cy="122.1" r="1.25" fill="#555555" fill-opacity="0.62"/>
<circle cx="132.9" cy="128.3" r="1.25" fill="#555555" fill-opacity="0.62"/>
<circle cx="135.8" cy="121.0" r="1.25" fill="#555555" fill-opacity="0.62"/>
<circle cx="128.3" cy="123.8" r="1.25" fill="#555555" fill-opacity="0.62"/>
<circle cx="127.8" cy="122.0" r="1.25" fill="#555555" fill-opacity="0.62"/>
<circle cx="127.8" cy="125.8" r="1.25" fill="#555555" fill-opacity="0.62"/>
<circle cx="135.2" cy="127.9" r="1.25" fill="#555555" fill-opacity="0.62"/>
<circle cx="128.6" cy="126.2" r="1.25" fill="#555555" fill-opacity="0.62"/>
<circle cx="133.9" cy="121.1" r="1.25" fill="#555555" fill-opacity="0.62"/>
<line x1="152.9" y1="80" x2="152.9" y2="99.1" stroke="#999" stroke-width="0.8" stroke-dasharray="0.8 1.6"/>
<line x1="148.4" y1="80" x2="157.4" y2="80" stroke="#777" stroke-width="0.9" />
<rect x="144.4" y="99.1" width="17.0" height="19.60000000000001" fill="#fff" stroke="#aaa" stroke-width="0.9" />
<line x1="144.4" y1="118.7" x2="161.4" y2="118.7" stroke="#7a7a7a" stroke-width="1.4" />
<circle cx="154.0" cy="55.1" r="1.25" fill="#6688c6" fill-opacity="0.68"/>
<circle cx="152.2" cy="67.3" r="1.25" fill="#6688c6" fill-opacity="0.68"/>
<circle cx="158.0" cy="80.0" r="1.25" fill="#6688c6" fill-opacity="0.68"/>
<circle cx="154.4" cy="92.0" r="1.25" fill="#6688c6" fill-opacity="0.68"/>
<circle cx="149.3" cy="94.7" r="1.25" fill="#6688c6" fill-opacity="0.68"/>
<circle cx="146.2" cy="98.7" r="1.25" fill="#6688c6" fill-opacity="0.68"/>
<circle cx="155.3" cy="102.4" r="1.25" fill="#6688c6" fill-opacity="0.68"/>
<circle cx="156.2" cy="104.2" r="1.25" fill="#6688c6" fill-opacity="0.68"/>
<circle cx="156.5" cy="112.0" r="1.25" fill="#6688c6" fill-opacity="0.68"/>
<circle cx="158.4" cy="128.5" r="1.25" fill="#6688c6" fill-opacity="0.62"/>
<circle cx="149.1" cy="128.4" r="1.25" fill="#6688c6" fill-opacity="0.62"/>
<circle cx="151.6" cy="124.2" r="1.25" fill="#6688c6" fill-opacity="0.62"/>
<circle cx="159.9" cy="127.3" r="1.25" fill="#6688c6" fill-opacity="0.62"/>
<circle cx="148.3" cy="123.7" r="1.25" fill="#6688c6" fill-opacity="0.62"/>
<circle cx="153.2" cy="122.9" r="1.25" fill="#6688c6" fill-opacity="0.62"/>
<circle cx="148.7" cy="122.7" r="1.25" fill="#6688c6" fill-opacity="0.62"/>
<circle cx="156.1" cy="120.0" r="1.25" fill="#6688c6" fill-opacity="0.62"/>
<circle cx="153.8" cy="123.8" r="1.25" fill="#6688c6" fill-opacity="0.62"/>
<circle cx="146.3" cy="122.8" r="1.25" fill="#6688c6" fill-opacity="0.62"/>
<circle cx="154.7" cy="124.4" r="1.25" fill="#6688c6" fill-opacity="0.62"/>
<circle cx="146.9" cy="128.7" r="1.25" fill="#6688c6" fill-opacity="0.62"/>
<circle cx="157.0" cy="128.5" r="1.25" fill="#6688c6" fill-opacity="0.62"/>
<circle cx="147.5" cy="122.2" r="1.25" fill="#6688c6" fill-opacity="0.62"/>
<circle cx="146.6" cy="126.8" r="1.25" fill="#6688c6" fill-opacity="0.62"/>
<circle cx="149.8" cy="121.0" r="1.25" fill="#6688c6" fill-opacity="0.62"/>
<line x1="173.9" y1="47.3" x2="173.9" y2="82.4" stroke="#999" stroke-width="0.8" stroke-dasharray="0.8 1.6"/>
<line x1="169.9" y1="47.3" x2="177.9" y2="47.3" stroke="#777" stroke-width="0.9" />
<rect x="165.3" y="82.4" width="17.19999999999999" height="36.3" fill="#fff" stroke="#aaa" stroke-width="0.9" />
<line x1="165.3" y1="118.7" x2="182.5" y2="118.7" stroke="#666" stroke-width="1.4" />
<circle cx="169.9" cy="47.6" r="1.25" fill="#555555" fill-opacity="0.68"/>
<circle cx="169.9" cy="50.0" r="1.25" fill="#555555" fill-opacity="0.68"/>
<circle cx="170.3" cy="52.7" r="1.25" fill="#555555" fill-opacity="0.68"/>
<circle cx="167.5" cy="56.4" r="1.25" fill="#555555" fill-opacity="0.68"/>
<circle cx="167.5" cy="57.6" r="1.25" fill="#555555" fill-opacity="0.68"/>
<circle cx="167.0" cy="62.2" r="1.25" fill="#555555" fill-opacity="0.68"/>
<circle cx="170.6" cy="63.6" r="1.25" fill="#555555" fill-opacity="0.68"/>
<circle cx="177.2" cy="62.7" r="1.25" fill="#555555" fill-opacity="0.68"/>
<circle cx="168.0" cy="67.6" r="1.25" fill="#555555" fill-opacity="0.68"/>
<circle cx="173.0" cy="73.0" r="1.25" fill="#555555" fill-opacity="0.68"/>
<circle cx="172.0" cy="76.4" r="1.25" fill="#555555" fill-opacity="0.68"/>
<circle cx="172.0" cy="77.5" r="1.25" fill="#555555" fill-opacity="0.68"/>
<circle cx="167.5" cy="82.4" r="1.25" fill="#555555" fill-opacity="0.68"/>
<circle cx="171.2" cy="82.4" r="1.25" fill="#555555" fill-opacity="0.68"/>
<circle cx="168.0" cy="87.3" r="1.25" fill="#555555" fill-opacity="0.68"/>
<circle cx="174.3" cy="100.0" r="1.25" fill="#555555" fill-opacity="0.68"/>
<circle cx="167.5" cy="105.6" r="1.25" fill="#555555" fill-opacity="0.68"/>
<circle cx="172.3" cy="128.0" r="1.25" fill="#444" fill-opacity="0.7"/>
<circle cx="178.3" cy="122.1" r="1.25" fill="#444" fill-opacity="0.7"/>
<circle cx="168.2" cy="128.1" r="1.25" fill="#444" fill-opacity="0.7"/>
<circle cx="174.6" cy="126.1" r="1.25" fill="#444" fill-opacity="0.7"/>
<circle cx="167.3" cy="120.3" r="1.25" fill="#444" fill-opacity="0.7"/>
<circle cx="176.3" cy="123.6" r="1.25" fill="#444" fill-opacity="0.7"/>
<circle cx="167.1" cy="128.2" r="1.25" fill="#444" fill-opacity="0.7"/>
<circle cx="175.5" cy="127.0" r="1.25" fill="#444" fill-opacity="0.7"/>
<circle cx="167.3" cy="127.5" r="1.25" fill="#444" fill-opacity="0.7"/>
<circle cx="167.0" cy="127.6" r="1.25" fill="#444" fill-opacity="0.7"/>
<circle cx="172.8" cy="122.9" r="1.25" fill="#444" fill-opacity="0.7"/>
<circle cx="174.3" cy="128.1" r="1.25" fill="#444" fill-opacity="0.7"/>
<circle cx="170.0" cy="121.0" r="1.25" fill="#444" fill-opacity="0.7"/>
<circle cx="173.9" cy="121.9" r="1.25" fill="#444" fill-opacity="0.7"/>
<circle cx="167.6" cy="121.3" r="1.25" fill="#444" fill-opacity="0.7"/>
<circle cx="166.8" cy="121.6" r="1.25" fill="#444" fill-opacity="0.7"/>
<circle cx="170.7" cy="122.5" r="1.25" fill="#444" fill-opacity="0.7"/>
<circle cx="177.4" cy="122.4" r="1.25" fill="#444" fill-opacity="0.7"/>
<circle cx="173.5" cy="121.4" r="1.25" fill="#444" fill-opacity="0.7"/>
<circle cx="171.2" cy="120.0" r="1.25" fill="#444" fill-opacity="0.7"/>
<circle cx="169.8" cy="119.9" r="1.25" fill="#444" fill-opacity="0.7"/>
<circle cx="177.0" cy="124.8" r="1.25" fill="#444" fill-opacity="0.7"/>
<circle cx="168.8" cy="124.1" r="1.25" fill="#444" fill-opacity="0.7"/>
<circle cx="180.0" cy="120.8" r="1.25" fill="#444" fill-opacity="0.7"/>
<circle cx="178.3" cy="123.7" r="1.25" fill="#444" fill-opacity="0.7"/>
<circle cx="173.4" cy="127.3" r="1.25" fill="#444" fill-opacity="0.7"/>
<circle cx="171.9" cy="124.4" r="1.25" fill="#444" fill-opacity="0.7"/>
<circle cx="176.3" cy="128.6" r="1.25" fill="#444" fill-opacity="0.7"/>
<circle cx="171.1" cy="127.3" r="1.25" fill="#444" fill-opacity="0.7"/>
<circle cx="176.6" cy="125.5" r="1.25" fill="#444" fill-opacity="0.7"/>
<circle cx="172.1" cy="122.9" r="1.25" fill="#444" fill-opacity="0.7"/>
<circle cx="166.8" cy="121.0" r="1.25" fill="#444" fill-opacity="0.7"/>
<circle cx="167.1" cy="126.5" r="1.25" fill="#444" fill-opacity="0.7"/>
<circle cx="169.8" cy="121.3" r="1.25" fill="#444" fill-opacity="0.7"/>
<circle cx="167.3" cy="127.4" r="1.25" fill="#444" fill-opacity="0.7"/>
<circle cx="179.1" cy="125.8" r="1.25" fill="#444" fill-opacity="0.7"/>
<circle cx="170.2" cy="122.0" r="1.25" fill="#444" fill-opacity="0.7"/>
<circle cx="170.4" cy="123.9" r="1.25" fill="#444" fill-opacity="0.7"/>
<circle cx="168.4" cy="123.8" r="1.25" fill="#444" fill-opacity="0.7"/>
<circle cx="169.9" cy="128.5" r="1.25" fill="#444" fill-opacity="0.7"/>
<line x1="194.85000000000002" y1="107.1" x2="194.85000000000002" y2="110.4" stroke="#999" stroke-width="0.8" stroke-dasharray="0.8 1.6"/>
<line x1="190.60000000000002" y1="107.1" x2="199.10000000000002" y2="107.1" stroke="#777" stroke-width="0.9" />
<rect x="186.4" y="110.4" width="16.900000000000006" height="8.599999999999994" fill="#fff" stroke="#aaa" stroke-width="0.9" />
<line x1="186.4" y1="119.0" x2="203.3" y2="119.0" stroke="#7a7a7a" stroke-width="1.4" />
<circle cx="191.7" cy="23.3" r="1.25" fill="#6688c6" fill-opacity="0.68"/>
<circle cx="189.9" cy="34.5" r="1.25" fill="#6688c6" fill-opacity="0.68"/>
<circle cx="190.6" cy="33.6" r="1.25" fill="#6688c6" fill-opacity="0.68"/>
<circle cx="189.4" cy="35.5" r="1.25" fill="#6688c6" fill-opacity="0.68"/>
<circle cx="196.6" cy="39.6" r="1.25" fill="#6688c6" fill-opacity="0.68"/>
<circle cx="201.2" cy="41.8" r="1.25" fill="#6688c6" fill-opacity="0.68"/>
<circle cx="192.6" cy="45.0" r="1.25" fill="#6688c6" fill-opacity="0.68"/>
<circle cx="189.4" cy="83.3" r="1.25" fill="#6688c6" fill-opacity="0.68"/>
<circle cx="193.0" cy="84.2" r="1.25" fill="#6688c6" fill-opacity="0.68"/>
<circle cx="193.0" cy="93.3" r="1.25" fill="#6688c6" fill-opacity="0.68"/>
<circle cx="196.6" cy="92.7" r="1.25" fill="#6688c6" fill-opacity="0.68"/>
<circle cx="199.4" cy="91.0" r="1.25" fill="#6688c6" fill-opacity="0.68"/>
<circle cx="194.8" cy="97.0" r="1.25" fill="#6688c6" fill-opacity="0.68"/>
<circle cx="191.4" cy="107.1" r="1.25" fill="#6688c6" fill-opacity="0.68"/>
<circle cx="189.2" cy="109.7" r="1.25" fill="#6688c6" fill-opacity="0.68"/>
<circle cx="193.0" cy="110.6" r="1.25" fill="#6688c6" fill-opacity="0.68"/>
<circle cx="201.1" cy="124.6" r="1.25" fill="#5479bb" fill-opacity="0.68"/>
<circle cx="191.7" cy="128.2" r="1.25" fill="#5479bb" fill-opacity="0.68"/>
<circle cx="192.5" cy="122.9" r="1.25" fill="#5479bb" fill-opacity="0.68"/>
<circle cx="188.5" cy="123.1" r="1.25" fill="#5479bb" fill-opacity="0.68"/>
<circle cx="194.7" cy="124.2" r="1.25" fill="#5479bb" fill-opacity="0.68"/>
<circle cx="191.1" cy="124.2" r="1.25" fill="#5479bb" fill-opacity="0.68"/>
<circle cx="188.6" cy="122.1" r="1.25" fill="#5479bb" fill-opacity="0.68"/>
<circle cx="189.7" cy="123.3" r="1.25" fill="#5479bb" fill-opacity="0.68"/>
<circle cx="189.0" cy="120.0" r="1.25" fill="#5479bb" fill-opacity="0.68"/>
<circle cx="192.5" cy="121.8" r="1.25" fill="#5479bb" fill-opacity="0.68"/>
<circle cx="196.1" cy="124.4" r="1.25" fill="#5479bb" fill-opacity="0.68"/>
<circle cx="198.3" cy="125.5" r="1.25" fill="#5479bb" fill-opacity="0.68"/>
<circle cx="197.8" cy="127.4" r="1.25" fill="#5479bb" fill-opacity="0.68"/>
<circle cx="193.6" cy="122.6" r="1.25" fill="#5479bb" fill-opacity="0.68"/>
<circle cx="201.3" cy="121.1" r="1.25" fill="#5479bb" fill-opacity="0.68"/>
<circle cx="197.9" cy="125.4" r="1.25" fill="#5479bb" fill-opacity="0.68"/>
<circle cx="189.1" cy="127.1" r="1.25" fill="#5479bb" fill-opacity="0.68"/>
<circle cx="200.1" cy="125.3" r="1.25" fill="#5479bb" fill-opacity="0.68"/>
<circle cx="198.0" cy="126.9" r="1.25" fill="#5479bb" fill-opacity="0.68"/>
<circle cx="190.3" cy="124.4" r="1.25" fill="#5479bb" fill-opacity="0.68"/>
<circle cx="195.1" cy="127.1" r="1.25" fill="#5479bb" fill-opacity="0.68"/>
<circle cx="199.0" cy="127.0" r="1.25" fill="#5479bb" fill-opacity="0.68"/>
<circle cx="196.1" cy="127.6" r="1.25" fill="#5479bb" fill-opacity="0.68"/>
<circle cx="197.4" cy="125.8" r="1.25" fill="#5479bb" fill-opacity="0.68"/>
<circle cx="191.5" cy="120.1" r="1.25" fill="#5479bb" fill-opacity="0.68"/>
<circle cx="190.2" cy="122.9" r="1.25" fill="#5479bb" fill-opacity="0.68"/>
<circle cx="189.9" cy="127.1" r="1.25" fill="#5479bb" fill-opacity="0.68"/>
<circle cx="195.8" cy="125.3" r="1.25" fill="#5479bb" fill-opacity="0.68"/>
<circle cx="196.6" cy="125.7" r="1.25" fill="#5479bb" fill-opacity="0.68"/>
<circle cx="194.9" cy="119.8" r="1.25" fill="#5479bb" fill-opacity="0.68"/>
<circle cx="198.9" cy="126.3" r="1.25" fill="#5479bb" fill-opacity="0.68"/>
<circle cx="195.0" cy="124.5" r="1.25" fill="#5479bb" fill-opacity="0.68"/>
<circle cx="197.1" cy="120.4" r="1.25" fill="#5479bb" fill-opacity="0.68"/>
<circle cx="198.1" cy="122.0" r="1.25" fill="#5479bb" fill-opacity="0.68"/>
<text x="239.8" y="27.4" font-size="7.4" text-anchor="start" font-weight="normal" fill="#111" stroke="#111" stroke-width="0.22" textLength="42.6" lengthAdjust="spacingAndGlyphs" >FDR=0.0029</text>
<line x1="243.6" y1="33.1" x2="306.4" y2="33.1" stroke="#b0b0b0" stroke-width="1.2" />
<line x1="310" y1="33.1" x2="356.1" y2="33.1" stroke="#b0b0b0" stroke-width="1.2" />
<polyline points="274.7,32.7 274.7,29.8 333.5,29.8 333.5,32.7" fill="none" stroke="#808080" stroke-width="0.9"/>
<rect x="302.80" y="25.4" width="1.2" height="1.2" fill="#555"/>
<rect x="304.80" y="25.4" width="1.2" height="1.2" fill="#555"/>
<text x="391.6" y="27.4" font-size="7.4" text-anchor="start" font-weight="normal" fill="#111" stroke="#111" stroke-width="0.22" textLength="42.2" lengthAdjust="spacingAndGlyphs" >FDR=0.0087</text>
<line x1="395.5" y1="33.1" x2="459.1" y2="33.1" stroke="#b0b0b0" stroke-width="1.2" />
<line x1="462" y1="33.1" x2="508.5" y2="33.1" stroke="#b0b0b0" stroke-width="1.2" />
<polyline points="427.4,32.7 427.4,29.8 485.9,29.8 485.9,32.7" fill="none" stroke="#808080" stroke-width="0.9"/>
<rect x="455.35" y="25.4" width="1.2" height="1.2" fill="#555"/>
<rect x="457.35" y="25.4" width="1.2" height="1.2" fill="#555"/>
<line x1="249.95" y1="79.6" x2="249.95" y2="99.4" stroke="#999" stroke-width="0.8" stroke-dasharray="0.8 1.6"/>
<line x1="246.85" y1="79.6" x2="253.04999999999998" y2="79.6" stroke="#777" stroke-width="0.9" />
<rect x="243.2" y="99.4" width="13.5" height="19.099999999999994" fill="#fff" stroke="#aaa" stroke-width="0.9" />
<line x1="243.2" y1="118.5" x2="256.7" y2="118.5" stroke="#333" stroke-width="1.4" />
<circle cx="250.2" cy="64.0" r="0.9" fill="#555555" fill-opacity="0.68"/>
<circle cx="250.6" cy="68.5" r="0.9" fill="#555555" fill-opacity="0.68"/>
<line x1="266.55" y1="41.8" x2="266.55" y2="84.3" stroke="#999" stroke-width="0.8" stroke-dasharray="0.8 1.6"/>
<line x1="263.65000000000003" y1="41.8" x2="269.45" y2="41.8" stroke="#777" stroke-width="0.9" />
<rect x="259.6" y="84.3" width="13.899999999999977" height="34.2" fill="#fff" stroke="#aaa" stroke-width="0.9" />
<line x1="259.6" y1="118.5" x2="273.5" y2="118.5" stroke="#333" stroke-width="1.4" />
<circle cx="266.2" cy="58.6" r="0.9" fill="#555555" fill-opacity="0.68"/>
<circle cx="265.0" cy="71.4" r="0.9" fill="#555555" fill-opacity="0.68"/>
<circle cx="263.5" cy="91.9" r="0.9" fill="#555555" fill-opacity="0.68"/>
<line x1="283.1" y1="38.8" x2="283.1" y2="64.3" stroke="#999" stroke-width="0.8" stroke-dasharray="0.8 1.6"/>
<line x1="280.05" y1="38.8" x2="286.15000000000003" y2="38.8" stroke="#777" stroke-width="0.9" />
<rect x="276.3" y="64.3" width="13.599999999999966" height="54.2" fill="#fff" stroke="#aaa" stroke-width="0.9" />
<line x1="276.3" y1="78.8" x2="289.9" y2="78.8" stroke="#333" stroke-width="1.4" />
<circle cx="282.0" cy="53.1" r="0.9" fill="#555555" fill-opacity="0.68"/>
<circle cx="283.0" cy="56.6" r="0.9" fill="#555555" fill-opacity="0.68"/>
<circle cx="286.0" cy="61.0" r="0.9" fill="#555555" fill-opacity="0.68"/>
<circle cx="285.0" cy="63.0" r="0.9" fill="#555555" fill-opacity="0.68"/>
<circle cx="284.2" cy="66.6" r="0.9" fill="#555555" fill-opacity="0.68"/>
<circle cx="280.4" cy="70.4" r="0.9" fill="#555555" fill-opacity="0.68"/>
<circle cx="283.0" cy="72.4" r="0.9" fill="#555555" fill-opacity="0.68"/>
<circle cx="282.4" cy="81.9" r="0.9" fill="#555555" fill-opacity="0.68"/>
<line x1="299.5" y1="43.3" x2="299.5" y2="53.1" stroke="#999" stroke-width="0.8" stroke-dasharray="0.8 1.6"/>
<line x1="296.25" y1="43.3" x2="302.75" y2="43.3" stroke="#777" stroke-width="0.9" />
<line x1="299.5" y1="78.8" x2="299.5" y2="118.4" stroke="#999" stroke-width="0.8" stroke-dasharray="0.8 1.6"/>
<line x1="296.25" y1="118.4" x2="302.75" y2="118.4" stroke="#777" stroke-width="0.9" />
<rect x="292.6" y="53.1" width="13.799999999999955" height="25.699999999999996" fill="#fff" stroke="#aaa" stroke-width="0.9" />
<line x1="292.6" y1="58.5" x2="306.4" y2="58.5" stroke="#333" stroke-width="1.4" />
<circle cx="296.5" cy="49.0" r="0.9" fill="#555555" fill-opacity="0.68"/>
<circle cx="300.3" cy="49.0" r="0.9" fill="#555555" fill-opacity="0.68"/>
<circle cx="299.2" cy="67.8" r="0.9" fill="#555555" fill-opacity="0.68"/>
<circle cx="302.6" cy="68.4" r="0.9" fill="#555555" fill-opacity="0.68"/>
<line x1="309.3" y1="118.5" x2="322.6" y2="118.5" stroke="#777" stroke-width="1.3" />
<line x1="326" y1="118.5" x2="339.1" y2="118.5" stroke="#777" stroke-width="1.3" />
<line x1="342.3" y1="118.5" x2="355.8" y2="118.5" stroke="#777" stroke-width="1.3" />
<circle cx="314.9" cy="42.7" r="0.9" fill="#6688c6" fill-opacity="0.68"/>
<circle cx="315.5" cy="45.0" r="0.9" fill="#6688c6" fill-opacity="0.68"/>
<circle cx="318.7" cy="45.2" r="0.9" fill="#6688c6" fill-opacity="0.68"/>
<circle cx="314.9" cy="61.5" r="0.9" fill="#6688c6" fill-opacity="0.68"/>
<circle cx="318.7" cy="76.6" r="0.9" fill="#6688c6" fill-opacity="0.68"/>
<circle cx="318.0" cy="81.7" r="0.9" fill="#6688c6" fill-opacity="0.68"/>
<circle cx="316.1" cy="91.2" r="0.9" fill="#6688c6" fill-opacity="0.68"/>
<circle cx="316.7" cy="102.6" r="0.9" fill="#6688c6" fill-opacity="0.68"/>
<circle cx="333.0" cy="108.0" r="0.9" fill="#6688c6" fill-opacity="0.68"/>
<circle cx="346.4" cy="55.7" r="0.9" fill="#6688c6" fill-opacity="0.68"/>
<circle cx="350.3" cy="55.7" r="0.9" fill="#6688c6" fill-opacity="0.68"/>
<circle cx="352.0" cy="77.5" r="0.9" fill="#6688c6" fill-opacity="0.68"/>
<circle cx="348.0" cy="86.1" r="0.9" fill="#6688c6" fill-opacity="0.68"/>
<circle cx="352.4" cy="104.8" r="0.9" fill="#6688c6" fill-opacity="0.68"/>
<circle cx="249.6" cy="124.5" r="0.8" fill="#333" fill-opacity="0.7"/>
<circle cx="253.4" cy="123.7" r="0.8" fill="#333" fill-opacity="0.7"/>
<circle cx="250.1" cy="124.8" r="0.8" fill="#333" fill-opacity="0.7"/>
<circle cx="247.5" cy="124.1" r="0.8" fill="#333" fill-opacity="0.7"/>
<circle cx="251.0" cy="126.6" r="0.8" fill="#333" fill-opacity="0.7"/>
<circle cx="246.8" cy="122.2" r="0.8" fill="#333" fill-opacity="0.7"/>
<circle cx="246.7" cy="126.8" r="0.8" fill="#333" fill-opacity="0.7"/>
<circle cx="251.5" cy="119.9" r="0.8" fill="#333" fill-opacity="0.7"/>
<circle cx="269.9" cy="128.2" r="0.8" fill="#333" fill-opacity="0.7"/>
<circle cx="267.2" cy="125.0" r="0.8" fill="#333" fill-opacity="0.7"/>
<circle cx="263.3" cy="119.6" r="0.8" fill="#333" fill-opacity="0.7"/>
<circle cx="266.2" cy="120.0" r="0.8" fill="#333" fill-opacity="0.7"/>
<circle cx="263.5" cy="121.7" r="0.8" fill="#333" fill-opacity="0.7"/>
<circle cx="262.2" cy="123.7" r="0.8" fill="#333" fill-opacity="0.7"/>
<circle cx="265.5" cy="127.1" r="0.8" fill="#333" fill-opacity="0.7"/>
<circle cx="266.2" cy="125.3" r="0.8" fill="#333" fill-opacity="0.7"/>
<circle cx="283.0" cy="125.5" r="0.8" fill="#333" fill-opacity="0.7"/>
<circle cx="282.7" cy="122.0" r="0.8" fill="#333" fill-opacity="0.7"/>
<circle cx="287.0" cy="128.5" r="0.8" fill="#333" fill-opacity="0.7"/>
<circle cx="285.7" cy="125.9" r="0.8" fill="#333" fill-opacity="0.7"/>
<circle cx="281.5" cy="121.6" r="0.8" fill="#333" fill-opacity="0.7"/>
<circle cx="281.3" cy="120.1" r="0.8" fill="#333" fill-opacity="0.7"/>
<circle cx="285.1" cy="123.1" r="0.8" fill="#333" fill-opacity="0.7"/>
<circle cx="285.8" cy="123.0" r="0.8" fill="#333" fill-opacity="0.7"/>
<circle cx="286.7" cy="127.1" r="0.8" fill="#333" fill-opacity="0.7"/>
<circle cx="279.0" cy="121.4" r="0.8" fill="#333" fill-opacity="0.7"/>
<circle cx="302.6" cy="123.1" r="0.8" fill="#333" fill-opacity="0.7"/>
<circle cx="302.9" cy="122.7" r="0.8" fill="#333" fill-opacity="0.7"/>
<circle cx="299.3" cy="124.0" r="0.8" fill="#333" fill-opacity="0.7"/>
<circle cx="318.1" cy="122.7" r="0.85" fill="#4a70b5" fill-opacity="0.75"/>
<circle cx="313.1" cy="123.2" r="0.85" fill="#4a70b5" fill-opacity="0.75"/>
<circle cx="319.4" cy="126.6" r="0.85" fill="#4a70b5" fill-opacity="0.75"/>
<circle cx="313.3" cy="122.5" r="0.85" fill="#4a70b5" fill-opacity="0.75"/>
<circle cx="313.2" cy="121.0" r="0.85" fill="#4a70b5" fill-opacity="0.75"/>
<circle cx="318.2" cy="121.9" r="0.85" fill="#4a70b5" fill-opacity="0.75"/>
<circle cx="316.5" cy="124.1" r="0.85" fill="#4a70b5" fill-opacity="0.75"/>
<circle cx="313.9" cy="126.4" r="0.85" fill="#4a70b5" fill-opacity="0.75"/>
<circle cx="313.4" cy="125.7" r="0.85" fill="#4a70b5" fill-opacity="0.75"/>
<circle cx="313.3" cy="123.9" r="0.85" fill="#4a70b5" fill-opacity="0.75"/>
<circle cx="314.0" cy="122.7" r="0.85" fill="#4a70b5" fill-opacity="0.75"/>
<circle cx="319.5" cy="127.0" r="0.85" fill="#4a70b5" fill-opacity="0.75"/>
<circle cx="314.7" cy="127.7" r="0.85" fill="#4a70b5" fill-opacity="0.75"/>
<circle cx="314.0" cy="123.7" r="0.85" fill="#4a70b5" fill-opacity="0.75"/>
<circle cx="318.7" cy="125.7" r="0.85" fill="#4a70b5" fill-opacity="0.75"/>
<circle cx="313.2" cy="128.5" r="0.85" fill="#4a70b5" fill-opacity="0.75"/>
<circle cx="330.6" cy="122.6" r="0.85" fill="#4a70b5" fill-opacity="0.75"/>
<circle cx="334.3" cy="123.2" r="0.85" fill="#4a70b5" fill-opacity="0.75"/>
<circle cx="331.2" cy="121.1" r="0.85" fill="#4a70b5" fill-opacity="0.75"/>
<circle cx="329.8" cy="125.2" r="0.85" fill="#4a70b5" fill-opacity="0.75"/>
<circle cx="330.8" cy="125.4" r="0.85" fill="#4a70b5" fill-opacity="0.75"/>
<circle cx="331.7" cy="124.2" r="0.85" fill="#4a70b5" fill-opacity="0.75"/>
<circle cx="335.5" cy="124.4" r="0.85" fill="#4a70b5" fill-opacity="0.75"/>
<circle cx="333.0" cy="127.5" r="0.85" fill="#4a70b5" fill-opacity="0.75"/>
<circle cx="330.4" cy="121.7" r="0.85" fill="#4a70b5" fill-opacity="0.75"/>
<circle cx="335.2" cy="127.1" r="0.85" fill="#4a70b5" fill-opacity="0.75"/>
<circle cx="330.8" cy="122.0" r="0.85" fill="#4a70b5" fill-opacity="0.75"/>
<circle cx="350.7" cy="128.1" r="0.85" fill="#4a70b5" fill-opacity="0.75"/>
<circle cx="347.2" cy="128.2" r="0.85" fill="#4a70b5" fill-opacity="0.75"/>
<circle cx="351.6" cy="125.4" r="0.85" fill="#4a70b5" fill-opacity="0.75"/>
<circle cx="348.6" cy="121.3" r="0.85" fill="#4a70b5" fill-opacity="0.75"/>
<circle cx="346.2" cy="128.3" r="0.85" fill="#4a70b5" fill-opacity="0.75"/>
<circle cx="347.4" cy="126.2" r="0.85" fill="#4a70b5" fill-opacity="0.75"/>
<circle cx="347.6" cy="127.2" r="0.85" fill="#4a70b5" fill-opacity="0.75"/>
<circle cx="349.8" cy="122.9" r="0.85" fill="#4a70b5" fill-opacity="0.75"/>
<circle cx="347.0" cy="126.3" r="0.85" fill="#4a70b5" fill-opacity="0.75"/>
<circle cx="346.3" cy="122.4" r="0.85" fill="#4a70b5" fill-opacity="0.75"/>
<circle cx="349.5" cy="127.4" r="0.85" fill="#4a70b5" fill-opacity="0.75"/>
<circle cx="349.9" cy="122.8" r="0.85" fill="#4a70b5" fill-opacity="0.75"/>
<circle cx="351.9" cy="122.2" r="0.85" fill="#4a70b5" fill-opacity="0.75"/>
<line x1="402.04999999999995" y1="38.9" x2="402.04999999999995" y2="63.5" stroke="#999" stroke-width="0.8" stroke-dasharray="0.8 1.6"/>
<line x1="398.74999999999994" y1="38.9" x2="405.34999999999997" y2="38.9" stroke="#777" stroke-width="0.9" />
<rect x="395.4" y="63.5" width="13.300000000000011" height="54.900000000000006" fill="#fff" stroke="#aaa" stroke-width="0.9" />
<line x1="395.4" y1="118.4" x2="408.7" y2="118.4" stroke="#333" stroke-width="1.4" />
<circle cx="403.0" cy="45.9" r="0.9" fill="#555555" fill-opacity="0.68"/>
<circle cx="401.5" cy="50.0" r="0.9" fill="#555555" fill-opacity="0.68"/>
<circle cx="403.0" cy="53.6" r="0.9" fill="#555555" fill-opacity="0.68"/>
<circle cx="399.5" cy="63.8" r="0.9" fill="#555555" fill-opacity="0.68"/>
<circle cx="401.8" cy="66.4" r="0.9" fill="#555555" fill-opacity="0.68"/>
<circle cx="403.5" cy="66.4" r="0.9" fill="#555555" fill-opacity="0.68"/>
<circle cx="404.5" cy="79.1" r="0.9" fill="#555555" fill-opacity="0.68"/>
<line x1="418.5" y1="44.2" x2="418.5" y2="85.2" stroke="#999" stroke-width="0.8" stroke-dasharray="0.8 1.6"/>
<line x1="415.45" y1="44.2" x2="421.55" y2="44.2" stroke="#777" stroke-width="0.9" />
<rect x="411.6" y="85.2" width="13.799999999999955" height="33.2" fill="#fff" stroke="#aaa" stroke-width="0.9" />
<line x1="411.6" y1="118.4" x2="425.4" y2="118.4" stroke="#333" stroke-width="1.4" />
<circle cx="417.5" cy="55.4" r="0.9" fill="#555555" fill-opacity="0.68"/>
<circle cx="418.3" cy="65.3" r="0.9" fill="#555555" fill-opacity="0.68"/>
<circle cx="417.4" cy="92.8" r="0.9" fill="#555555" fill-opacity="0.68"/>
<circle cx="421.0" cy="92.8" r="0.9" fill="#555555" fill-opacity="0.68"/>
<circle cx="418.3" cy="95.5" r="0.9" fill="#555555" fill-opacity="0.68"/>
<line x1="435.35" y1="57.7" x2="435.35" y2="68.4" stroke="#999" stroke-width="0.8" stroke-dasharray="0.8 1.6"/>
<line x1="432.0" y1="57.7" x2="438.70000000000005" y2="57.7" stroke="#777" stroke-width="0.9" />
<line x1="435.35" y1="102.2" x2="435.35" y2="118.3" stroke="#999" stroke-width="0.8" stroke-dasharray="0.8 1.6"/>
<line x1="432.0" y1="118.3" x2="438.70000000000005" y2="118.3" stroke="#777" stroke-width="0.9" />
<rect x="428.3" y="68.4" width="14.099999999999966" height="33.8" fill="#fff" stroke="#aaa" stroke-width="0.9" />
<line x1="428.3" y1="83.9" x2="442.4" y2="83.9" stroke="#333" stroke-width="1.4" />
<circle cx="434.0" cy="61.5" r="0.9" fill="#555555" fill-opacity="0.68"/>
<circle cx="436.2" cy="69.2" r="0.9" fill="#555555" fill-opacity="0.68"/>
<circle cx="436.5" cy="71.2" r="0.9" fill="#555555" fill-opacity="0.68"/>
<circle cx="437.0" cy="80.6" r="0.9" fill="#555555" fill-opacity="0.68"/>
<circle cx="433.0" cy="92.4" r="0.9" fill="#555555" fill-opacity="0.68"/>
<circle cx="436.5" cy="91.2" r="0.9" fill="#555555" fill-opacity="0.68"/>
<circle cx="434.6" cy="101.1" r="0.9" fill="#555555" fill-opacity="0.68"/>
<rect x="445.1" y="60.3" width="13.8" height="2.7" fill="#c8c8c8"/>
<line x1="452.0" y1="40.9" x2="452.0" y2="60.3" stroke="#999" stroke-width="0.8" stroke-dasharray="0.8 1.6"/>
<line x1="448.6" y1="40.9" x2="455.4" y2="40.9" stroke="#777" stroke-width="0.9" />
<line x1="452.0" y1="74.5" x2="452.0" y2="93.1" stroke="#999" stroke-width="0.8" stroke-dasharray="0.8 1.6"/>
<line x1="448.6" y1="93.1" x2="455.4" y2="93.1" stroke="#777" stroke-width="0.9" />
<rect x="445.1" y="60.3" width="13.799999999999955" height="14.200000000000003" fill="none" stroke="#aaa" stroke-width="0.9" />
<line x1="445.1" y1="63.0" x2="458.9" y2="63.0" stroke="#333" stroke-width="1.4" />
<circle cx="452.0" cy="53.9" r="0.9" fill="#555555" fill-opacity="0.68"/>
<circle cx="451.5" cy="63.8" r="0.9" fill="#555555" fill-opacity="0.68"/>
<circle cx="451.3" cy="84.4" r="0.9" fill="#555555" fill-opacity="0.68"/>
<circle cx="451.8" cy="98.0" r="0.9" fill="#555555" fill-opacity="0.68"/>
<line x1="468.4" y1="48.8" x2="468.4" y2="81.0" stroke="#999" stroke-width="0.8" stroke-dasharray="0.8 1.6"/>
<line x1="465.25" y1="48.8" x2="471.54999999999995" y2="48.8" stroke="#777" stroke-width="0.9" />
<rect x="461.8" y="81.0" width="13.199999999999989" height="37.2" fill="#c9d3e6" stroke="#999" stroke-width="0.9" />
<line x1="461.8" y1="118.2" x2="475.0" y2="118.2" stroke="#445" stroke-width="1.4" />
<line x1="485.1" y1="109.4" x2="485.1" y2="114.1" stroke="#999" stroke-width="0.8" stroke-dasharray="0.8 1.6"/>
<line x1="481.25" y1="109.4" x2="488.95000000000005" y2="109.4" stroke="#777" stroke-width="0.9" />
<rect x="478.2" y="114.1" width="13.800000000000011" height="4.1000000000000085" fill="#c9d3e6" stroke="#999" stroke-width="0.9" />
<line x1="478.2" y1="118.2" x2="492.0" y2="118.2" stroke="#445" stroke-width="1.4" />
<line x1="501.85" y1="46.7" x2="501.85" y2="89.0" stroke="#999" stroke-width="0.8" stroke-dasharray="0.8 1.6"/>
<line x1="498.65000000000003" y1="46.7" x2="505.05" y2="46.7" stroke="#777" stroke-width="0.9" />
<rect x="494.9" y="89.0" width="13.900000000000034" height="29.200000000000003" fill="#c9d3e6" stroke="#999" stroke-width="0.9" />
<line x1="494.9" y1="118.2" x2="508.8" y2="118.2" stroke="#445" stroke-width="1.4" />
<circle cx="466.0" cy="48.8" r="0.9" fill="#6688c6" fill-opacity="0.68"/>
<circle cx="470.7" cy="52.7" r="0.9" fill="#6688c6" fill-opacity="0.68"/>
<circle cx="470.0" cy="66.8" r="0.9" fill="#6688c6" fill-opacity="0.68"/>
<circle cx="470.4" cy="79.0" r="0.9" fill="#6688c6" fill-opacity="0.68"/>
<circle cx="467.5" cy="89.7" r="0.9" fill="#6688c6" fill-opacity="0.68"/>
<circle cx="468.2" cy="92.1" r="0.9" fill="#6688c6" fill-opacity="0.68"/>
<circle cx="470.4" cy="109.1" r="0.9" fill="#6688c6" fill-opacity="0.68"/>
<circle cx="485.4" cy="65.2" r="0.9" fill="#6688c6" fill-opacity="0.68"/>
<circle cx="488.0" cy="83.8" r="0.9" fill="#6688c6" fill-opacity="0.68"/>
<circle cx="487.0" cy="89.0" r="0.9" fill="#6688c6" fill-opacity="0.68"/>
<circle cx="487.7" cy="91.6" r="0.9" fill="#6688c6" fill-opacity="0.68"/>
<circle cx="502.3" cy="46.7" r="0.9" fill="#6688c6" fill-opacity="0.68"/>
<circle cx="499.0" cy="55.6" r="0.9" fill="#6688c6" fill-opacity="0.68"/>
<circle cx="500.7" cy="74.2" r="0.9" fill="#6688c6" fill-opacity="0.68"/>
<circle cx="499.7" cy="81.1" r="0.9" fill="#6688c6" fill-opacity="0.68"/>
<circle cx="500.7" cy="83.8" r="0.9" fill="#6688c6" fill-opacity="0.68"/>
<circle cx="403.0" cy="126.2" r="0.8" fill="#333" fill-opacity="0.7"/>
<circle cx="404.4" cy="128.0" r="0.8" fill="#333" fill-opacity="0.7"/>
<circle cx="403.9" cy="127.8" r="0.8" fill="#333" fill-opacity="0.7"/>
<circle cx="398.2" cy="123.7" r="0.8" fill="#333" fill-opacity="0.7"/>
<circle cx="405.5" cy="125.3" r="0.8" fill="#333" fill-opacity="0.7"/>
<circle cx="405.2" cy="120.5" r="0.8" fill="#333" fill-opacity="0.7"/>
<circle cx="401.8" cy="121.7" r="0.8" fill="#333" fill-opacity="0.7"/>
<circle cx="402.4" cy="124.7" r="0.8" fill="#333" fill-opacity="0.7"/>
<circle cx="398.1" cy="121.5" r="0.8" fill="#333" fill-opacity="0.7"/>
<circle cx="416.2" cy="127.7" r="0.8" fill="#333" fill-opacity="0.7"/>
<circle cx="420.1" cy="120.9" r="0.8" fill="#333" fill-opacity="0.7"/>
<circle cx="420.4" cy="120.7" r="0.8" fill="#333" fill-opacity="0.7"/>
<circle cx="418.9" cy="120.6" r="0.8" fill="#333" fill-opacity="0.7"/>
<circle cx="414.0" cy="127.3" r="0.8" fill="#333" fill-opacity="0.7"/>
<circle cx="415.7" cy="121.4" r="0.8" fill="#333" fill-opacity="0.7"/>
<circle cx="421.9" cy="127.4" r="0.8" fill="#333" fill-opacity="0.7"/>
<circle cx="416.3" cy="128.2" r="0.8" fill="#333" fill-opacity="0.7"/>
<circle cx="418.3" cy="125.6" r="0.8" fill="#333" fill-opacity="0.7"/>
<circle cx="432.6" cy="128.0" r="0.8" fill="#333" fill-opacity="0.7"/>
<circle cx="436.5" cy="128.2" r="0.8" fill="#333" fill-opacity="0.7"/>
<circle cx="438.1" cy="122.2" r="0.8" fill="#333" fill-opacity="0.7"/>
<circle cx="433.9" cy="121.0" r="0.8" fill="#333" fill-opacity="0.7"/>
<circle cx="432.2" cy="120.1" r="0.8" fill="#333" fill-opacity="0.7"/>
<circle cx="433.4" cy="124.9" r="0.8" fill="#333" fill-opacity="0.7"/>
<circle cx="431.0" cy="125.6" r="0.8" fill="#333" fill-opacity="0.7"/>
<circle cx="466.7" cy="122.6" r="0.85" fill="#4a70b5" fill-opacity="0.75"/>
<circle cx="470.5" cy="124.1" r="0.85" fill="#4a70b5" fill-opacity="0.75"/>
<circle cx="466.5" cy="124.1" r="0.85" fill="#4a70b5" fill-opacity="0.75"/>
<circle cx="469.6" cy="120.5" r="0.85" fill="#4a70b5" fill-opacity="0.75"/>
<circle cx="471.8" cy="120.2" r="0.85" fill="#4a70b5" fill-opacity="0.75"/>
<circle cx="470.0" cy="127.2" r="0.85" fill="#4a70b5" fill-opacity="0.75"/>
<circle cx="464.1" cy="126.7" r="0.85" fill="#4a70b5" fill-opacity="0.75"/>
<circle cx="466.9" cy="124.9" r="0.85" fill="#4a70b5" fill-opacity="0.75"/>
<circle cx="464.1" cy="120.4" r="0.85" fill="#4a70b5" fill-opacity="0.75"/>
<circle cx="465.4" cy="128.1" r="0.85" fill="#4a70b5" fill-opacity="0.75"/>
<circle cx="482.6" cy="126.4" r="0.85" fill="#4a70b5" fill-opacity="0.75"/>
<circle cx="488.4" cy="128.0" r="0.85" fill="#4a70b5" fill-opacity="0.75"/>
<circle cx="483.8" cy="123.0" r="0.85" fill="#4a70b5" fill-opacity="0.75"/>
<circle cx="485.2" cy="126.6" r="0.85" fill="#4a70b5" fill-opacity="0.75"/>
<circle cx="481.9" cy="126.4" r="0.85" fill="#4a70b5" fill-opacity="0.75"/>
<circle cx="487.4" cy="127.3" r="0.85" fill="#4a70b5" fill-opacity="0.75"/>
<circle cx="481.3" cy="128.0" r="0.85" fill="#4a70b5" fill-opacity="0.75"/>
<circle cx="481.7" cy="122.9" r="0.85" fill="#4a70b5" fill-opacity="0.75"/>
<circle cx="485.9" cy="127.8" r="0.85" fill="#4a70b5" fill-opacity="0.75"/>
<circle cx="483.7" cy="127.9" r="0.85" fill="#4a70b5" fill-opacity="0.75"/>
<circle cx="485.4" cy="122.7" r="0.85" fill="#4a70b5" fill-opacity="0.75"/>
<circle cx="483.5" cy="121.5" r="0.85" fill="#4a70b5" fill-opacity="0.75"/>
<circle cx="497.6" cy="121.3" r="0.85" fill="#4a70b5" fill-opacity="0.75"/>
<circle cx="502.5" cy="128.5" r="0.85" fill="#4a70b5" fill-opacity="0.75"/>
<circle cx="498.3" cy="120.4" r="0.85" fill="#4a70b5" fill-opacity="0.75"/>
<circle cx="504.9" cy="124.5" r="0.85" fill="#4a70b5" fill-opacity="0.75"/>
<circle cx="500.2" cy="122.0" r="0.85" fill="#4a70b5" fill-opacity="0.75"/>
<circle cx="501.8" cy="127.0" r="0.85" fill="#4a70b5" fill-opacity="0.75"/>
<circle cx="500.6" cy="123.6" r="0.85" fill="#4a70b5" fill-opacity="0.75"/>
<circle cx="497.4" cy="127.8" r="0.85" fill="#4a70b5" fill-opacity="0.75"/>
<circle cx="497.3" cy="124.2" r="0.85" fill="#4a70b5" fill-opacity="0.75"/>
<circle cx="503.7" cy="121.1" r="0.85" fill="#4a70b5" fill-opacity="0.75"/>
<defs>
<filter id="bl" x="-20%" y="-80%" width="140%" height="260%"><feGaussianBlur stdDeviation="0.6"/></filter>
<filter id="bl2" x="-20%" y="-50%" width="140%" height="200%"><feGaussianBlur stdDeviation="1.0"/></filter>
<linearGradient id="blotg" x1="0" y1="0" x2="0" y2="1">
<stop offset="0" stop-color="#c8c8c0"/><stop offset="0.45" stop-color="#e6e6e0"/><stop offset="1" stop-color="#dadad4"/></linearGradient>
<filter id="bl3" x="-20%" y="-80%" width="140%" height="260%"><feGaussianBlur stdDeviation="0.8"/></filter>
</defs>
<text x="52.6" y="207.6" font-size="6.8" text-anchor="start" font-weight="normal" fill="#111" stroke="#111" stroke-width="0.22" textLength="33.5" lengthAdjust="spacingAndGlyphs" transform="rotate(-46 52.6 207.6)" >shLuciferase</text>
<text x="73.0" y="207.2" font-size="6.8" text-anchor="start" font-weight="normal" fill="#111" stroke="#111" stroke-width="0.22" textLength="37.0" lengthAdjust="spacingAndGlyphs" transform="rotate(-46 73.0 207.2)" >shSBDS.729</text>
<text x="94.6" y="207.6" font-size="6.8" text-anchor="start" font-weight="normal" fill="#111" stroke="#111" stroke-width="0.22" textLength="40.0" lengthAdjust="spacingAndGlyphs" transform="rotate(-46 94.6 207.6)" >shSBDS.1518</text>
<text x="38" y="219.4" font-size="8" text-anchor="end" font-weight="normal" fill="#111" stroke="#111" stroke-width="0.22" textLength="21.9" lengthAdjust="spacingAndGlyphs" >SBDS</text>
<text x="38" y="237.9" font-size="8" text-anchor="end" font-weight="normal" fill="#111" stroke="#111" stroke-width="0.22" textLength="19.7" lengthAdjust="spacingAndGlyphs" >ACTB</text>
<rect x="42.6" y="211.8" width="59.8" height="10.3" fill="url(#blotg)" stroke="#1a1a1a" stroke-width="1.3" />
<rect x="44.4" y="215.1" width="15.2" height="2.5" rx="1.2" fill="#0a0a0a" filter="url(#bl)"/>
<rect x="65" y="215.3" width="13" height="2.2" fill="#bdbdb8" filter="url(#bl2)"/>
<rect x="81.5" y="215.3" width="16" height="2.2" fill="#c8c8c3" filter="url(#bl2)"/>
<text x="106" y="219.7" font-size="7.7" text-anchor="start" font-weight="normal" fill="#111" stroke="#111" stroke-width="0.22" textLength="24.3" lengthAdjust="spacingAndGlyphs" >29 kDa</text>
<text x="69" y="229.2" font-size="7" text-anchor="start" font-weight="normal" fill="#111" stroke="#111" stroke-width="0.22" textLength="9.4" lengthAdjust="spacingAndGlyphs" >90</text>
<text x="90.1" y="229.2" font-size="7" text-anchor="start" font-weight="normal" fill="#111" stroke="#111" stroke-width="0.22" textLength="9.0" lengthAdjust="spacingAndGlyphs" >90</text>
<text x="105.5" y="229.2" font-size="7.2" text-anchor="start" font-weight="normal" fill="#222" stroke="#222" stroke-width="0.22" textLength="74.9" lengthAdjust="spacingAndGlyphs" >% Protein Knockdown</text>
<rect x="42.6" y="231.0" width="59.9" height="9.9" fill="url(#blotg)" stroke="#1a1a1a" stroke-width="1.3" />
<rect x="43.8" y="234.5" width="15.5" height="2.4" rx="1.1" fill="#3a3a3a" filter="url(#bl)"/>
<rect x="64.6" y="234.7" width="14" height="2.4" rx="1.1" fill="#3a3a3a" filter="url(#bl)"/>
<path d="M81.2,233.6 Q88,235.4 99.6,235.4 L99.6,237.6 Q88,237.8 81.2,235.8 Z" fill="#3a3a3a" filter="url(#bl)"/>
<text x="106" y="238.7" font-size="7.7" text-anchor="start" font-weight="normal" fill="#111" stroke="#111" stroke-width="0.22" textLength="24.3" lengthAdjust="spacingAndGlyphs" >42 kDa</text>
<text x="54.2" y="267.0" font-size="6.8" text-anchor="start" font-weight="normal" fill="#111" stroke="#111" stroke-width="0.22" textLength="30.5" lengthAdjust="spacingAndGlyphs" transform="rotate(-46 54.2 267.0)" >pLMG-LV5</text>
<text x="72.8" y="267.0" font-size="6.8" text-anchor="start" font-weight="normal" fill="#111" stroke="#111" stroke-width="0.22" textLength="33.5" lengthAdjust="spacingAndGlyphs" transform="rotate(-46 72.8 267.0)" >pLMG-LV5-</text>
<text x="77.6" y="270.6" font-size="6.8" text-anchor="start" font-weight="normal" fill="#111" stroke="#111" stroke-width="0.22" textLength="29.5" lengthAdjust="spacingAndGlyphs" transform="rotate(-46 77.6 270.6)" >ARHGEF2</text>
<text x="47.1" y="279.6" font-size="8" text-anchor="end" font-weight="normal" fill="#111" stroke="#111" stroke-width="0.22" textLength="36.9" lengthAdjust="spacingAndGlyphs" >ARHGEF2</text>
<text x="49" y="297.5" font-size="8" text-anchor="end" font-weight="normal" fill="#111" stroke="#111" stroke-width="0.22" textLength="19.4" lengthAdjust="spacingAndGlyphs" >ACTB</text>
<rect x="52.8" y="273.6" width="39.6" height="7.6" fill="#fbf7f7" stroke="#1a1a1a" stroke-width="1.3" />
<linearGradient id="ag" x1="0" y1="0" x2="1" y2="0"><stop offset="0" stop-color="#555"/><stop offset="0.25" stop-color="#2a2a2a"/><stop offset="1" stop-color="#262626"/></linearGradient><rect x="73.4" y="274.3" width="16.2" height="6.8" rx="1.5" fill="url(#ag)" filter="url(#bl)"/>
<rect x="90.1" y="274.3" width="0.8" height="6.4" fill="#333"/>
<text x="72" y="287.9" font-size="7.2" text-anchor="start" font-weight="normal" fill="#111" stroke="#111" stroke-width="0.22" textLength="18.9" lengthAdjust="spacingAndGlyphs" >18.56</text>
<text x="97.7" y="280" font-size="7.7" text-anchor="start" font-weight="normal" fill="#111" stroke="#111" stroke-width="0.22" textLength="28.5" lengthAdjust="spacingAndGlyphs" >112 kDa</text>
<text x="97.7" y="289.1" font-size="7.7" text-anchor="start" font-weight="normal" fill="#111" stroke="#111" stroke-width="0.22" textLength="43.5" lengthAdjust="spacingAndGlyphs" >Fold Change</text>
<rect x="52.8" y="291.8" width="39.6" height="7.4" fill="url(#blotg)" stroke="#1a1a1a" stroke-width="1.3" />
<path d="M54,294.6 Q62,294.2 68,295.0 Q73,293.4 80,293.6 Q85,293.3 90,293.6 L90,295.8 Q80,295.6 72,296.4 Q62,297.4 54,297.0 Z" fill="#6a6a6a" filter="url(#bl)"/>
<text x="97.7" y="298.3" font-size="7.7" text-anchor="start" font-weight="normal" fill="#111" stroke="#111" stroke-width="0.22" textLength="24.0" lengthAdjust="spacingAndGlyphs" >42 kDa</text>
<line x1="222.3" y1="186.8" x2="222.3" y2="278.3" stroke="#000" stroke-width="1.4" />
<line x1="221.6" y1="277.6" x2="296.9" y2="277.6" stroke="#000" stroke-width="1.4" />
<line x1="219.6" y1="188" x2="222.3" y2="188" stroke="#000" stroke-width="1.1" />
<text x="217.3" y="190.3" font-size="7" text-anchor="end" font-weight="normal" fill="#111" stroke="#111" stroke-width="0.22" >1.1</text>
<line x1="219.6" y1="202.7" x2="222.3" y2="202.7" stroke="#000" stroke-width="1.1" />
<text x="217.3" y="205.0" font-size="7" text-anchor="end" font-weight="normal" fill="#111" stroke="#111" stroke-width="0.22" >1.0</text>
<line x1="219.6" y1="217.6" x2="222.3" y2="217.6" stroke="#000" stroke-width="1.1" />
<text x="217.3" y="219.9" font-size="7" text-anchor="end" font-weight="normal" fill="#111" stroke="#111" stroke-width="0.22" >0.9</text>
<line x1="219.6" y1="232.5" x2="222.3" y2="232.5" stroke="#000" stroke-width="1.1" />
<text x="217.3" y="234.8" font-size="7" text-anchor="end" font-weight="normal" fill="#111" stroke="#111" stroke-width="0.22" >0.8</text>
<line x1="219.6" y1="247.4" x2="222.3" y2="247.4" stroke="#000" stroke-width="1.1" />
<text x="217.3" y="249.70000000000002" font-size="7" text-anchor="end" font-weight="normal" fill="#111" stroke="#111" stroke-width="0.22" >0.7</text>
<line x1="219.6" y1="262.3" x2="222.3" y2="262.3" stroke="#000" stroke-width="1.1" />
<text x="217.3" y="264.6" font-size="7" text-anchor="end" font-weight="normal" fill="#111" stroke="#111" stroke-width="0.22" >0.6</text>
<line x1="219.6" y1="277.2" x2="222.3" y2="277.2" stroke="#000" stroke-width="1.1" />
<text x="217.3" y="279.5" font-size="7" text-anchor="end" font-weight="normal" fill="#111" stroke="#111" stroke-width="0.22" >0.5</text>
<line x1="240.4" y1="277.6" x2="240.4" y2="280.2" stroke="#000" stroke-width="1.1" />
<line x1="277.4" y1="277.6" x2="277.4" y2="280.2" stroke="#000" stroke-width="1.1" />
<text x="201.3" y="235" font-size="7.2" text-anchor="middle" font-weight="normal" fill="#111" stroke="#111" stroke-width="0.45" textLength="54.8" lengthAdjust="spacingAndGlyphs" transform="rotate(-90 201.3 235)" >Relative Expression</text>
<text x="246.3" y="284.2" font-size="6.4" text-anchor="end" font-weight="normal" fill="#111" stroke="#111" stroke-width="0.22" textLength="17.5" lengthAdjust="spacingAndGlyphs" transform="rotate(-37 246.3 284.2)" >SBDS</text>
<text x="283.5" y="286.6" font-size="6.4" text-anchor="end" font-weight="normal" fill="#111" stroke="#111" stroke-width="0.22" textLength="29.5" lengthAdjust="spacingAndGlyphs" transform="rotate(-38 283.5 286.6)" >ARHGEF2</text>
<rect x="238.10" y="214.30" width="5.8" height="5.8" fill="#1d5a94"/>
<rect x="246.10" y="218.20" width="5.6" height="5.6" fill="none" stroke="#f7941d" stroke-width="1.2"/>
<polygon points="230.20,228.48 235.40,228.48 232.80,223.70" fill="#3aaa47"/>
<line x1="228.8" y1="230.1" x2="253" y2="230.1" stroke="#333" stroke-width="1.4" />
<circle cx="240.8" cy="227.4" r="2.7" fill="none" stroke="#67308f" stroke-width="1.2"/>
<circle cx="240.4" cy="258.1" r="2.6" fill="#d11f32" fill-opacity="1"/>
<circle cx="277.5" cy="205.3" r="2.7" fill="none" stroke="#67308f" stroke-width="1.2"/>
<polygon points="275.20,222.88 280.40,222.88 277.80,218.10" fill="#3aaa47"/>
<rect x="271.00" y="222.60" width="5.6" height="5.6" fill="#1d5a94"/>
<line x1="265.1" y1="226.4" x2="289.9" y2="226.4" stroke="#111" stroke-width="1.3" />
<rect x="279.00" y="227.20" width="5.6" height="5.6" fill="none" stroke="#f7941d" stroke-width="1.2"/>
<circle cx="277.4" cy="251.5" r="2.6" fill="#d11f32" fill-opacity="1"/>
<line x1="346.2" y1="187.2" x2="346.2" y2="278.0" stroke="#000" stroke-width="1.4" />
<line x1="345.5" y1="277.4" x2="422.3" y2="277.4" stroke="#000" stroke-width="1.4" />
<line x1="343.6" y1="188" x2="346.2" y2="188" stroke="#000" stroke-width="1.1" />
<text x="342.4" y="190.1" font-size="7.7" text-anchor="end" font-weight="normal" fill="#111" stroke="#111" stroke-width="0.22" >30</text>
<line x1="343.6" y1="218" x2="346.2" y2="218" stroke="#000" stroke-width="1.1" />
<text x="342.4" y="220.1" font-size="7.7" text-anchor="end" font-weight="normal" fill="#111" stroke="#111" stroke-width="0.22" >20</text>
<line x1="343.6" y1="247.5" x2="346.2" y2="247.5" stroke="#000" stroke-width="1.1" />
<text x="342.4" y="249.6" font-size="7.7" text-anchor="end" font-weight="normal" fill="#111" stroke="#111" stroke-width="0.22" >10</text>
<line x1="343.6" y1="277.3" x2="346.2" y2="277.3" stroke="#000" stroke-width="1.1" />
<text x="341.0" y="279.40000000000003" font-size="7.7" text-anchor="end" font-weight="normal" fill="#111" stroke="#111" stroke-width="0.22" >0</text>
<line x1="359.2" y1="277.4" x2="359.2" y2="280.4" stroke="#000" stroke-width="1.1" />
<line x1="383.6" y1="277.4" x2="383.6" y2="280.4" stroke="#000" stroke-width="1.1" />
<line x1="409.5" y1="277.4" x2="409.5" y2="280.4" stroke="#000" stroke-width="1.1" />
<text x="319.5" y="235.1" font-size="8.0" text-anchor="middle" font-weight="normal" fill="#111" stroke="#111" stroke-width="0.45" transform="rotate(-90 319.5 235.1)" textLength="56.8">Annexin V<tspan font-size="5" dy="-2.8">+</tspan><tspan dy="2.8">/7-AAD</tspan><tspan font-size="5" dy="-2.8">-</tspan></text>
<text x="326.4" y="236" font-size="7.2" text-anchor="middle" font-weight="normal" fill="#111" stroke="#111" stroke-width="0.4" textLength="25.5" lengthAdjust="spacingAndGlyphs" transform="rotate(-90 326.4 236)" >cells(%)</text>
<text x="362.8" y="284.0" font-size="6.5" text-anchor="end" font-weight="normal" fill="#111" stroke="#111" stroke-width="0.22" textLength="35" lengthAdjust="spacingAndGlyphs" transform="rotate(-42 362.8 284.0)" >shLuciferase</text>
<text x="386.0" y="285.6" font-size="6.5" text-anchor="end" font-weight="normal" fill="#111" stroke="#111" stroke-width="0.22" textLength="27.5" lengthAdjust="spacingAndGlyphs" transform="rotate(-42 386.0 285.6)" >shSBDS-1</text>
<text x="410.0" y="285.6" font-size="6.5" text-anchor="end" font-weight="normal" fill="#111" stroke="#111" stroke-width="0.22" textLength="27.5" lengthAdjust="spacingAndGlyphs" transform="rotate(-42 410.0 285.6)" >shSBDS-2</text>
<circle cx="351.3" cy="230.4" r="1.9" fill="#d11f32" fill-opacity="1"/>
<circle cx="355.9" cy="235.2" r="1.9" fill="#d11f32" fill-opacity="1"/>
<circle cx="354.2" cy="241.3" r="1.9" fill="#d11f32" fill-opacity="1"/>
<circle cx="379.0" cy="203.0" r="1.9" fill="#d11f32" fill-opacity="1"/>
<circle cx="377.5" cy="231.3" r="1.9" fill="#d11f32" fill-opacity="1"/>
<circle cx="381.9" cy="229.8" r="1.9" fill="#d11f32" fill-opacity="1"/>
<circle cx="403.4" cy="229.0" r="1.9" fill="#d11f32" fill-opacity="1"/>
<circle cx="404.7" cy="232.3" r="1.9" fill="#d11f32" fill-opacity="1"/>
<circle cx="404.3" cy="235.2" r="1.9" fill="#d11f32" fill-opacity="1"/>
<rect x="361.90" y="237.90" width="3.4" height="3.4" fill="#1d5a94"/>
<rect x="364.90" y="241.10" width="3.4" height="3.4" fill="#1d5a94"/>
<rect x="360.10" y="245.00" width="3.4" height="3.4" fill="#1d5a94"/>
<rect x="386.90" y="238.30" width="3.4" height="3.4" fill="#1d5a94"/>
<rect x="389.80" y="239.60" width="3.4" height="3.4" fill="#1d5a94"/>
<rect x="385.00" y="244.60" width="3.4" height="3.4" fill="#1d5a94"/>
<rect x="409.80" y="243.90" width="3.4" height="3.4" fill="#1d5a94"/>
<rect x="412.60" y="244.30" width="3.4" height="3.4" fill="#1d5a94"/>
<rect x="411.10" y="246.20" width="3.4" height="3.4" fill="#1d5a94"/>
<line x1="351.3" y1="235.2" x2="354.6" y2="235.2" stroke="#222" stroke-width="1.1" />
<line x1="361.3" y1="243.8" x2="364.1" y2="243.8" stroke="#222" stroke-width="1.1" />
<line x1="376.6" y1="220.4" x2="382.3" y2="220.4" stroke="#222" stroke-width="1.1" />
<line x1="385.2" y1="241.9" x2="389" y2="241.9" stroke="#222" stroke-width="1.1" />
<line x1="401.4" y1="232.3" x2="405.3" y2="232.3" stroke="#222" stroke-width="1.1" />
<line x1="410.5" y1="246.4" x2="414" y2="246.4" stroke="#222" stroke-width="1.1" />
<polyline points="378.5,196.8 378.5,187.6 389.7,187.6 389.7,231.3" fill="none" stroke="#111" stroke-width="1.1"/>
<polyline points="403.9,221.8 403.9,214.1 413.1,214.1 413.1,245.7" fill="none" stroke="#111" stroke-width="1.1"/>
<text x="366.8" y="186.0" font-size="7.2" text-anchor="start" font-weight="normal" fill="#111" stroke="#111" stroke-width="0.22" textLength="35.1" lengthAdjust="spacingAndGlyphs" >p= 0.0896</text>
<text x="406.79999999999995" y="212.5" font-size="5.5" text-anchor="middle" font-weight="normal" fill="#111" stroke="#111" stroke-width="0.22" >*</text>
<text x="409.4" y="212.5" font-size="5.5" text-anchor="middle" font-weight="normal" fill="#111" stroke="#111" stroke-width="0.22" >*</text>
<text x="412.0" y="212.5" font-size="5.5" text-anchor="middle" font-weight="normal" fill="#111" stroke="#111" stroke-width="0.22" >*</text>
<circle cx="432.6" cy="210.9" r="1.8" fill="#d11f32" fill-opacity="1"/>
<rect x="430.90" y="219.30" width="3.4" height="3.4" fill="#1d5a94"/>
<text x="437.7" y="213.9" font-size="7.8" text-anchor="start" font-weight="normal" fill="#111" stroke="#111" stroke-width="0.22" textLength="8.7" lengthAdjust="spacingAndGlyphs" >EV</text>
<text x="437.7" y="224.1" font-size="7.8" text-anchor="start" font-weight="normal" fill="#111" stroke="#111" stroke-width="0.22" textLength="33.6" lengthAdjust="spacingAndGlyphs" >ARHGEF2</text>
</svg></body></html>
